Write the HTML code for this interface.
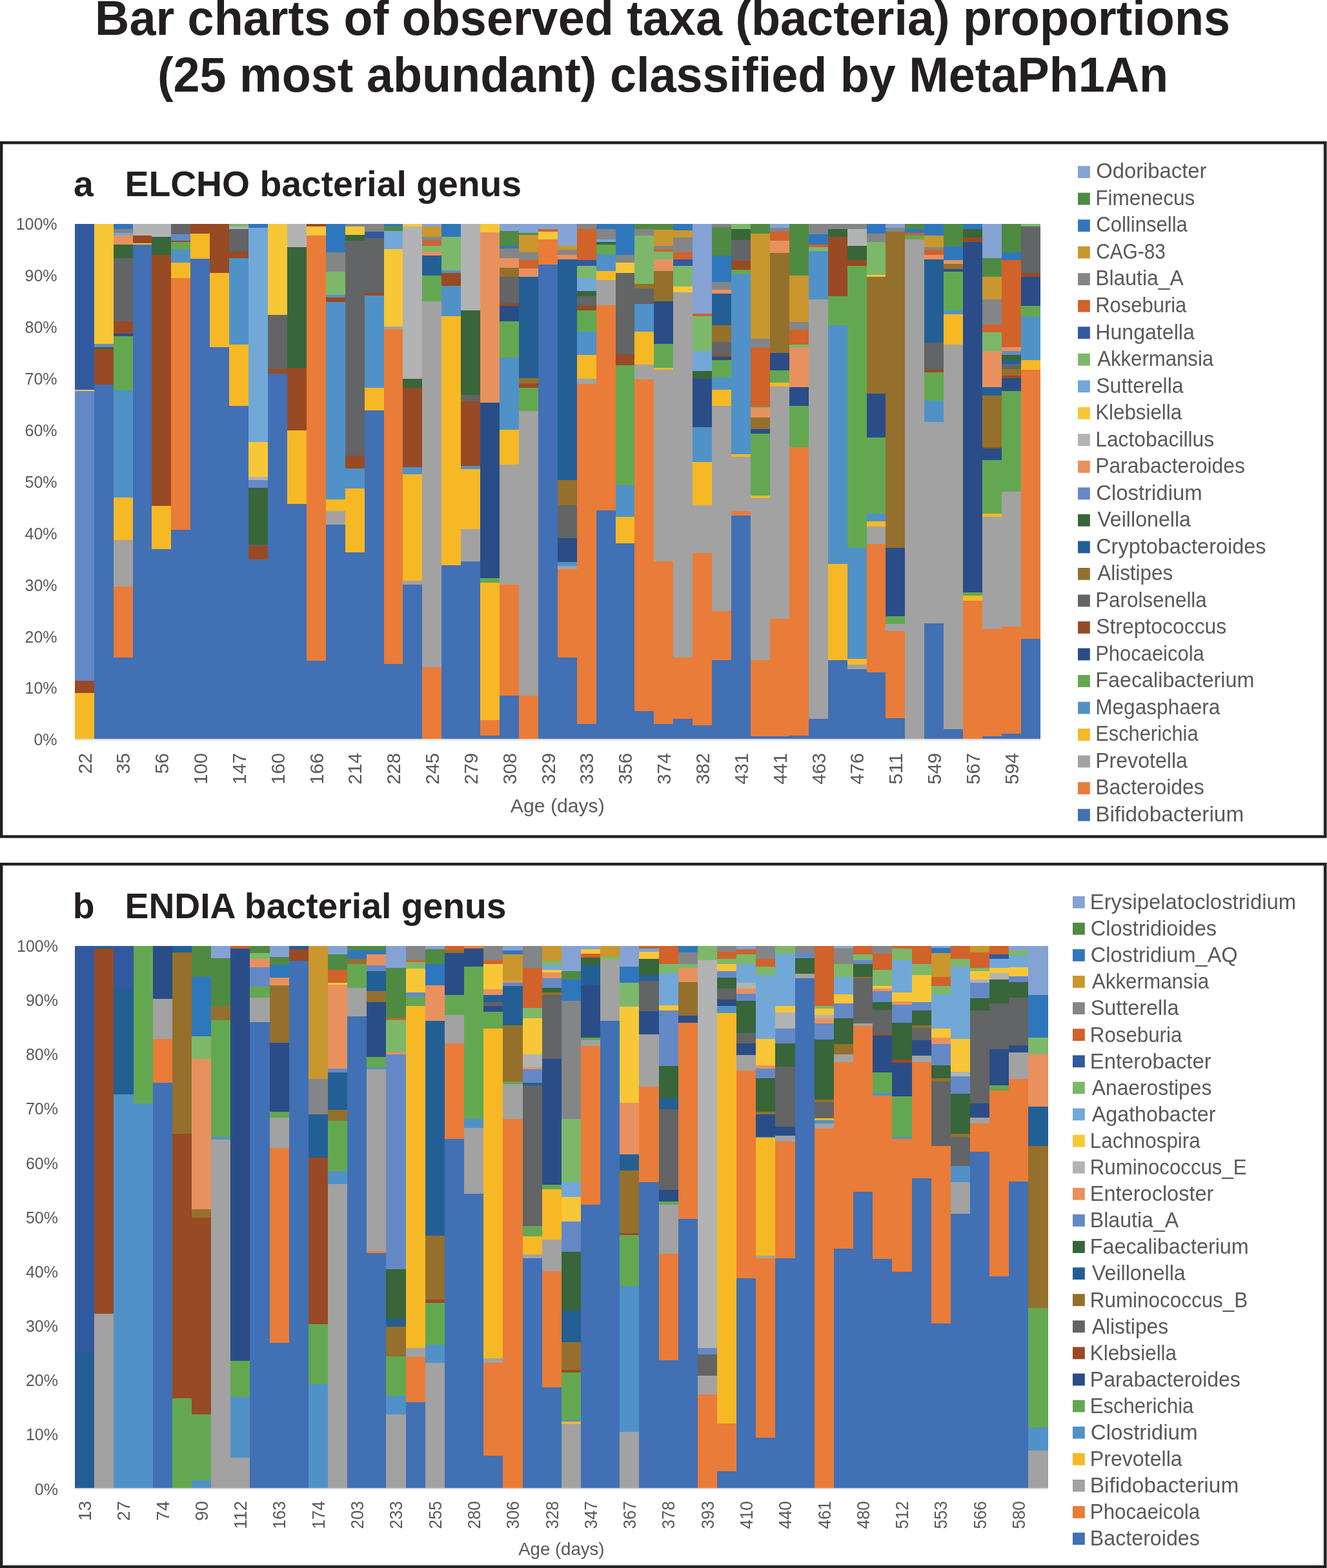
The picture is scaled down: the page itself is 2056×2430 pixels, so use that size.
<!DOCTYPE html>
<html><head><meta charset="utf-8"><title>Bar charts of observed taxa</title>
<style>html,body{margin:0;padding:0;background:#fff;width:2056px;height:2430px;overflow:hidden}</style>
</head><body>
<svg width="2056" height="2430" viewBox="0 0 2056 2430" style="display:block">
<rect width="2056" height="2430" fill="#fff"/>
<g transform="translate(1028,0) scale(0.971,1)">
<text x="-1.5" y="54.2" text-anchor="middle" font-family="Liberation Sans, Arial, sans-serif" font-weight="bold" font-size="76" fill="#231F20">Bar charts of observed taxa (bacteria) proportions</text>
<text x="-1" y="142" text-anchor="middle" font-family="Liberation Sans, Arial, sans-serif" font-weight="bold" font-size="76" fill="#231F20">(25 most abundant) classified by MetaPh1An</text>
</g>
<rect x="2.20" y="221.20" width="2051.10" height="1075.30" fill="#fff" stroke="#231F20" stroke-width="4.4"/>
<rect x="2049.30" y="223.40" width="1.6" height="1070.90" fill="#D6D6D6"/>
<text x="114" y="304.3" font-family="Liberation Sans, Arial, sans-serif" font-weight="bold" font-size="55.3" fill="#231F20">a</text>
<text x="193.5" y="304.3" font-family="Liberation Sans, Arial, sans-serif" font-weight="bold" font-size="55.3" fill="#231F20">ELCHO bacterial genus</text>
<rect x="115.80" y="1145.40" width="1496.00" height="2" fill="#D9D9D9"/>
<g shape-rendering="crispEdges">
<rect x="116" y="1074" width="30" height="71" fill="#F6B925"/>
<rect x="116" y="1055" width="30" height="19" fill="#984A24"/>
<rect x="116" y="606" width="30" height="449" fill="#6489C6"/>
<rect x="116" y="604" width="30" height="2" fill="#F8C737"/>
<rect x="116" y="347" width="30" height="257" fill="#3159A0"/>
<rect x="146" y="596" width="30" height="549" fill="#4170B4"/>
<rect x="146" y="541" width="30" height="55" fill="#984A24"/>
<rect x="146" y="538" width="30" height="3" fill="#386539"/>
<rect x="146" y="533" width="30" height="5" fill="#6489C6"/>
<rect x="146" y="347" width="30" height="186" fill="#F8C737"/>
<rect x="176" y="1019" width="30" height="126" fill="#4170B4"/>
<rect x="176" y="909" width="30" height="110" fill="#E97C38"/>
<rect x="176" y="837" width="30" height="72" fill="#A2A2A2"/>
<rect x="176" y="771" width="30" height="66" fill="#F6B925"/>
<rect x="176" y="605" width="30" height="166" fill="#5092C7"/>
<rect x="176" y="521" width="30" height="84" fill="#63A851"/>
<rect x="176" y="517" width="30" height="4" fill="#2A4D88"/>
<rect x="176" y="498" width="30" height="19" fill="#984A24"/>
<rect x="176" y="400" width="30" height="98" fill="#626465"/>
<rect x="176" y="379" width="30" height="21" fill="#386539"/>
<rect x="176" y="365" width="30" height="14" fill="#E9915E"/>
<rect x="176" y="361" width="30" height="4" fill="#72A8D8"/>
<rect x="176" y="355" width="30" height="6" fill="#848586"/>
<rect x="176" y="347" width="30" height="8" fill="#2F77BD"/>
<rect x="206" y="379" width="29" height="766" fill="#4170B4"/>
<rect x="206" y="377" width="29" height="2" fill="#F8C737"/>
<rect x="206" y="365" width="29" height="12" fill="#984A24"/>
<rect x="206" y="347" width="29" height="18" fill="#B2B3B4"/>
<rect x="235" y="851" width="30" height="294" fill="#4170B4"/>
<rect x="235" y="784" width="30" height="67" fill="#F6B925"/>
<rect x="235" y="395" width="30" height="389" fill="#984A24"/>
<rect x="235" y="367" width="30" height="28" fill="#386539"/>
<rect x="235" y="347" width="30" height="20" fill="#B2B3B4"/>
<rect x="265" y="821" width="30" height="324" fill="#4170B4"/>
<rect x="265" y="431" width="30" height="390" fill="#E97C38"/>
<rect x="265" y="407" width="30" height="24" fill="#F6B925"/>
<rect x="265" y="387" width="30" height="20" fill="#5092C7"/>
<rect x="265" y="375" width="30" height="12" fill="#63A851"/>
<rect x="265" y="373" width="30" height="2" fill="#984A24"/>
<rect x="265" y="363" width="30" height="10" fill="#6489C6"/>
<rect x="265" y="347" width="30" height="16" fill="#626465"/>
<rect x="295" y="401" width="30" height="744" fill="#4170B4"/>
<rect x="295" y="362" width="30" height="39" fill="#F6B925"/>
<rect x="295" y="347" width="30" height="15" fill="#984A24"/>
<rect x="325" y="538" width="30" height="607" fill="#4170B4"/>
<rect x="325" y="423" width="30" height="115" fill="#F6B925"/>
<rect x="325" y="347" width="30" height="76" fill="#984A24"/>
<rect x="355" y="629" width="30" height="516" fill="#4170B4"/>
<rect x="355" y="534" width="30" height="95" fill="#F6B925"/>
<rect x="355" y="400" width="30" height="134" fill="#5092C7"/>
<rect x="355" y="390" width="30" height="10" fill="#984A24"/>
<rect x="355" y="355" width="30" height="35" fill="#626465"/>
<rect x="355" y="351" width="30" height="4" fill="#B2B3B4"/>
<rect x="355" y="347" width="30" height="4" fill="#7DB86A"/>
<rect x="385" y="867" width="30" height="278" fill="#4170B4"/>
<rect x="385" y="846" width="30" height="21" fill="#984A24"/>
<rect x="385" y="844" width="30" height="2" fill="#626465"/>
<rect x="385" y="756" width="30" height="88" fill="#386539"/>
<rect x="385" y="744" width="30" height="12" fill="#6489C6"/>
<rect x="385" y="739" width="30" height="5" fill="#B2B3B4"/>
<rect x="385" y="685" width="30" height="54" fill="#F8C737"/>
<rect x="385" y="353" width="30" height="332" fill="#72A8D8"/>
<rect x="385" y="347" width="30" height="6" fill="#2F77BD"/>
<rect x="415" y="579" width="30" height="566" fill="#4170B4"/>
<rect x="415" y="572" width="30" height="7" fill="#984A24"/>
<rect x="415" y="488" width="30" height="84" fill="#626465"/>
<rect x="415" y="347" width="30" height="141" fill="#F8C737"/>
<rect x="445" y="781" width="30" height="364" fill="#4170B4"/>
<rect x="445" y="667" width="30" height="114" fill="#F6B925"/>
<rect x="445" y="570" width="30" height="97" fill="#984A24"/>
<rect x="445" y="383" width="30" height="187" fill="#386539"/>
<rect x="445" y="347" width="30" height="36" fill="#B2B3B4"/>
<rect x="475" y="1024" width="30" height="121" fill="#4170B4"/>
<rect x="475" y="365" width="30" height="659" fill="#E97C38"/>
<rect x="475" y="351" width="30" height="14" fill="#F8C737"/>
<rect x="475" y="347" width="30" height="4" fill="#984A24"/>
<rect x="505" y="813" width="30" height="332" fill="#4170B4"/>
<rect x="505" y="792" width="30" height="21" fill="#A2A2A2"/>
<rect x="505" y="774" width="30" height="18" fill="#F6B925"/>
<rect x="505" y="468" width="30" height="306" fill="#5092C7"/>
<rect x="505" y="461" width="30" height="7" fill="#984A24"/>
<rect x="505" y="457" width="30" height="4" fill="#6489C6"/>
<rect x="505" y="421" width="30" height="36" fill="#7DB86A"/>
<rect x="505" y="391" width="30" height="30" fill="#848586"/>
<rect x="505" y="347" width="30" height="44" fill="#2F77BD"/>
<rect x="535" y="856" width="30" height="289" fill="#4170B4"/>
<rect x="535" y="757" width="30" height="99" fill="#F6B925"/>
<rect x="535" y="726" width="30" height="31" fill="#5092C7"/>
<rect x="535" y="706" width="30" height="20" fill="#984A24"/>
<rect x="535" y="373" width="30" height="333" fill="#626465"/>
<rect x="535" y="364" width="30" height="9" fill="#386539"/>
<rect x="535" y="351" width="30" height="13" fill="#F8C737"/>
<rect x="535" y="347" width="30" height="4" fill="#848586"/>
<rect x="565" y="636" width="30" height="509" fill="#4170B4"/>
<rect x="565" y="601" width="30" height="35" fill="#F6B925"/>
<rect x="565" y="458" width="30" height="143" fill="#5092C7"/>
<rect x="565" y="454" width="30" height="4" fill="#984A24"/>
<rect x="565" y="369" width="30" height="85" fill="#626465"/>
<rect x="565" y="359" width="30" height="10" fill="#3159A0"/>
<rect x="565" y="347" width="30" height="12" fill="#848586"/>
<rect x="595" y="1029" width="29" height="116" fill="#4170B4"/>
<rect x="595" y="510" width="29" height="519" fill="#E97C38"/>
<rect x="595" y="506" width="29" height="4" fill="#A2A2A2"/>
<rect x="595" y="386" width="29" height="120" fill="#F8C737"/>
<rect x="595" y="358" width="29" height="28" fill="#72A8D8"/>
<rect x="595" y="351" width="29" height="7" fill="#4F8A43"/>
<rect x="595" y="347" width="29" height="4" fill="#2F77BD"/>
<rect x="624" y="906" width="30" height="239" fill="#4170B4"/>
<rect x="624" y="900" width="30" height="6" fill="#A2A2A2"/>
<rect x="624" y="735" width="30" height="165" fill="#F6B925"/>
<rect x="624" y="724" width="30" height="11" fill="#5092C7"/>
<rect x="624" y="601" width="30" height="123" fill="#984A24"/>
<rect x="624" y="587" width="30" height="14" fill="#386539"/>
<rect x="624" y="351" width="30" height="236" fill="#B2B3B4"/>
<rect x="624" y="347" width="30" height="4" fill="#F8C737"/>
<rect x="654" y="1034" width="30" height="111" fill="#E97C38"/>
<rect x="654" y="467" width="30" height="567" fill="#A2A2A2"/>
<rect x="654" y="427" width="30" height="40" fill="#63A851"/>
<rect x="654" y="396" width="30" height="31" fill="#235F95"/>
<rect x="654" y="390" width="30" height="6" fill="#E9915E"/>
<rect x="654" y="381" width="30" height="9" fill="#7DB86A"/>
<rect x="654" y="373" width="30" height="8" fill="#D0622A"/>
<rect x="654" y="367" width="30" height="6" fill="#848586"/>
<rect x="654" y="351" width="30" height="16" fill="#C9972E"/>
<rect x="654" y="347" width="30" height="4" fill="#85A2D4"/>
<rect x="684" y="876" width="30" height="269" fill="#4170B4"/>
<rect x="684" y="490" width="30" height="386" fill="#F6B925"/>
<rect x="684" y="443" width="30" height="47" fill="#5092C7"/>
<rect x="684" y="423" width="30" height="20" fill="#984A24"/>
<rect x="684" y="419" width="30" height="4" fill="#6489C6"/>
<rect x="684" y="367" width="30" height="52" fill="#7DB86A"/>
<rect x="684" y="347" width="30" height="20" fill="#2F77BD"/>
<rect x="714" y="870" width="30" height="275" fill="#4170B4"/>
<rect x="714" y="820" width="30" height="50" fill="#A2A2A2"/>
<rect x="714" y="727" width="30" height="93" fill="#F6B925"/>
<rect x="714" y="722" width="30" height="5" fill="#5092C7"/>
<rect x="714" y="622" width="30" height="100" fill="#984A24"/>
<rect x="714" y="612" width="30" height="10" fill="#626465"/>
<rect x="714" y="481" width="30" height="131" fill="#386539"/>
<rect x="714" y="347" width="30" height="134" fill="#B2B3B4"/>
<rect x="744" y="1140" width="30" height="5" fill="#4170B4"/>
<rect x="744" y="1116" width="30" height="24" fill="#E97C38"/>
<rect x="744" y="903" width="30" height="213" fill="#F6B925"/>
<rect x="744" y="896" width="30" height="7" fill="#63A851"/>
<rect x="744" y="624" width="30" height="272" fill="#2A4D88"/>
<rect x="744" y="360" width="30" height="264" fill="#E9915E"/>
<rect x="744" y="347" width="30" height="13" fill="#F8C737"/>
<rect x="774" y="1078" width="30" height="67" fill="#4170B4"/>
<rect x="774" y="906" width="30" height="172" fill="#E97C38"/>
<rect x="774" y="720" width="30" height="186" fill="#A2A2A2"/>
<rect x="774" y="666" width="30" height="54" fill="#F6B925"/>
<rect x="774" y="554" width="30" height="112" fill="#5092C7"/>
<rect x="774" y="498" width="30" height="56" fill="#63A851"/>
<rect x="774" y="474" width="30" height="24" fill="#2A4D88"/>
<rect x="774" y="470" width="30" height="4" fill="#984A24"/>
<rect x="774" y="429" width="30" height="41" fill="#626465"/>
<rect x="774" y="415" width="30" height="14" fill="#94702C"/>
<rect x="774" y="400" width="30" height="15" fill="#E9915E"/>
<rect x="774" y="385" width="30" height="15" fill="#848586"/>
<rect x="774" y="381" width="30" height="4" fill="#2F77BD"/>
<rect x="774" y="358" width="30" height="23" fill="#4F8A43"/>
<rect x="774" y="347" width="30" height="11" fill="#85A2D4"/>
<rect x="804" y="1078" width="30" height="67" fill="#E97C38"/>
<rect x="804" y="637" width="30" height="441" fill="#A2A2A2"/>
<rect x="804" y="601" width="30" height="36" fill="#63A851"/>
<rect x="804" y="594" width="30" height="7" fill="#984A24"/>
<rect x="804" y="586" width="30" height="8" fill="#94702C"/>
<rect x="804" y="429" width="30" height="157" fill="#235F95"/>
<rect x="804" y="416" width="30" height="13" fill="#E9915E"/>
<rect x="804" y="403" width="30" height="13" fill="#D0622A"/>
<rect x="804" y="391" width="30" height="12" fill="#848586"/>
<rect x="804" y="364" width="30" height="27" fill="#C9972E"/>
<rect x="804" y="361" width="30" height="3" fill="#4F8A43"/>
<rect x="804" y="347" width="30" height="14" fill="#85A2D4"/>
<rect x="834" y="410" width="30" height="735" fill="#4170B4"/>
<rect x="834" y="371" width="30" height="39" fill="#E97C38"/>
<rect x="834" y="359" width="30" height="12" fill="#F8C737"/>
<rect x="834" y="355" width="30" height="4" fill="#D0622A"/>
<rect x="834" y="347" width="30" height="8" fill="#85A2D4"/>
<rect x="864" y="1019" width="30" height="126" fill="#4170B4"/>
<rect x="864" y="882" width="30" height="137" fill="#E97C38"/>
<rect x="864" y="877" width="30" height="5" fill="#A2A2A2"/>
<rect x="864" y="871" width="30" height="6" fill="#5092C7"/>
<rect x="864" y="834" width="30" height="37" fill="#2A4D88"/>
<rect x="864" y="783" width="30" height="51" fill="#626465"/>
<rect x="864" y="744" width="30" height="39" fill="#94702C"/>
<rect x="864" y="402" width="30" height="342" fill="#235F95"/>
<rect x="864" y="395" width="30" height="7" fill="#E9915E"/>
<rect x="864" y="387" width="30" height="8" fill="#848586"/>
<rect x="864" y="381" width="30" height="6" fill="#C9972E"/>
<rect x="864" y="347" width="30" height="34" fill="#85A2D4"/>
<rect x="894" y="1122" width="30" height="23" fill="#4170B4"/>
<rect x="894" y="595" width="30" height="527" fill="#E97C38"/>
<rect x="894" y="587" width="30" height="8" fill="#A2A2A2"/>
<rect x="894" y="550" width="30" height="37" fill="#F6B925"/>
<rect x="894" y="514" width="30" height="36" fill="#5092C7"/>
<rect x="894" y="481" width="30" height="33" fill="#63A851"/>
<rect x="894" y="474" width="30" height="7" fill="#984A24"/>
<rect x="894" y="459" width="30" height="15" fill="#626465"/>
<rect x="894" y="451" width="30" height="8" fill="#386539"/>
<rect x="894" y="431" width="30" height="20" fill="#72A8D8"/>
<rect x="894" y="412" width="30" height="19" fill="#7DB86A"/>
<rect x="894" y="403" width="30" height="9" fill="#3159A0"/>
<rect x="894" y="355" width="30" height="48" fill="#D0622A"/>
<rect x="894" y="347" width="30" height="8" fill="#848586"/>
<rect x="924" y="791" width="30" height="354" fill="#4170B4"/>
<rect x="924" y="473" width="30" height="318" fill="#E97C38"/>
<rect x="924" y="434" width="30" height="39" fill="#A2A2A2"/>
<rect x="924" y="420" width="30" height="14" fill="#F6B925"/>
<rect x="924" y="394" width="30" height="26" fill="#5092C7"/>
<rect x="924" y="379" width="30" height="15" fill="#63A851"/>
<rect x="924" y="375" width="30" height="4" fill="#386539"/>
<rect x="924" y="371" width="30" height="4" fill="#72A8D8"/>
<rect x="924" y="355" width="30" height="16" fill="#848586"/>
<rect x="924" y="347" width="30" height="8" fill="#2F77BD"/>
<rect x="954" y="842" width="29" height="303" fill="#4170B4"/>
<rect x="954" y="801" width="29" height="41" fill="#F6B925"/>
<rect x="954" y="752" width="29" height="49" fill="#5092C7"/>
<rect x="954" y="566" width="29" height="186" fill="#63A851"/>
<rect x="954" y="549" width="29" height="17" fill="#984A24"/>
<rect x="954" y="423" width="29" height="126" fill="#626465"/>
<rect x="954" y="407" width="29" height="16" fill="#F8C737"/>
<rect x="954" y="395" width="29" height="12" fill="#848586"/>
<rect x="954" y="347" width="29" height="48" fill="#2F77BD"/>
<rect x="983" y="1102" width="30" height="43" fill="#4170B4"/>
<rect x="983" y="588" width="30" height="514" fill="#E97C38"/>
<rect x="983" y="565" width="30" height="23" fill="#A2A2A2"/>
<rect x="983" y="514" width="30" height="51" fill="#F6B925"/>
<rect x="983" y="471" width="30" height="43" fill="#5092C7"/>
<rect x="983" y="447" width="30" height="24" fill="#626465"/>
<rect x="983" y="440" width="30" height="7" fill="#94702C"/>
<rect x="983" y="365" width="30" height="75" fill="#7DB86A"/>
<rect x="983" y="355" width="30" height="10" fill="#848586"/>
<rect x="983" y="347" width="30" height="8" fill="#4F8A43"/>
<rect x="1013" y="1122" width="30" height="23" fill="#4170B4"/>
<rect x="1013" y="870" width="30" height="252" fill="#E97C38"/>
<rect x="1013" y="573" width="30" height="297" fill="#A2A2A2"/>
<rect x="1013" y="570" width="30" height="3" fill="#F6B925"/>
<rect x="1013" y="533" width="30" height="37" fill="#63A851"/>
<rect x="1013" y="467" width="30" height="66" fill="#2A4D88"/>
<rect x="1013" y="420" width="30" height="47" fill="#94702C"/>
<rect x="1013" y="402" width="30" height="18" fill="#E9915E"/>
<rect x="1013" y="390" width="30" height="12" fill="#7DB86A"/>
<rect x="1013" y="386" width="30" height="4" fill="#D0622A"/>
<rect x="1013" y="381" width="30" height="5" fill="#848586"/>
<rect x="1013" y="356" width="30" height="25" fill="#C9972E"/>
<rect x="1013" y="347" width="30" height="9" fill="#4F8A43"/>
<rect x="1043" y="1114" width="30" height="31" fill="#4170B4"/>
<rect x="1043" y="1019" width="30" height="95" fill="#E97C38"/>
<rect x="1043" y="453" width="30" height="566" fill="#A2A2A2"/>
<rect x="1043" y="444" width="30" height="9" fill="#F8C737"/>
<rect x="1043" y="412" width="30" height="32" fill="#7DB86A"/>
<rect x="1043" y="402" width="30" height="10" fill="#3159A0"/>
<rect x="1043" y="391" width="30" height="11" fill="#D0622A"/>
<rect x="1043" y="368" width="30" height="23" fill="#848586"/>
<rect x="1043" y="357" width="30" height="11" fill="#C9972E"/>
<rect x="1043" y="347" width="30" height="10" fill="#2F77BD"/>
<rect x="1073" y="1124" width="30" height="21" fill="#4170B4"/>
<rect x="1073" y="857" width="30" height="267" fill="#E97C38"/>
<rect x="1073" y="783" width="30" height="74" fill="#A2A2A2"/>
<rect x="1073" y="716" width="30" height="67" fill="#F6B925"/>
<rect x="1073" y="662" width="30" height="54" fill="#5092C7"/>
<rect x="1073" y="587" width="30" height="75" fill="#2A4D88"/>
<rect x="1073" y="575" width="30" height="12" fill="#386539"/>
<rect x="1073" y="544" width="30" height="31" fill="#72A8D8"/>
<rect x="1073" y="490" width="30" height="54" fill="#7DB86A"/>
<rect x="1073" y="486" width="30" height="4" fill="#D0622A"/>
<rect x="1073" y="347" width="30" height="139" fill="#85A2D4"/>
<rect x="1103" y="1023" width="30" height="122" fill="#4170B4"/>
<rect x="1103" y="947" width="30" height="76" fill="#E97C38"/>
<rect x="1103" y="629" width="30" height="318" fill="#A2A2A2"/>
<rect x="1103" y="604" width="30" height="25" fill="#F6B925"/>
<rect x="1103" y="585" width="30" height="19" fill="#5092C7"/>
<rect x="1103" y="558" width="30" height="27" fill="#63A851"/>
<rect x="1103" y="553" width="30" height="5" fill="#2A4D88"/>
<rect x="1103" y="550" width="30" height="3" fill="#984A24"/>
<rect x="1103" y="530" width="30" height="20" fill="#626465"/>
<rect x="1103" y="504" width="30" height="26" fill="#94702C"/>
<rect x="1103" y="455" width="30" height="49" fill="#235F95"/>
<rect x="1103" y="449" width="30" height="6" fill="#E9915E"/>
<rect x="1103" y="437" width="30" height="12" fill="#848586"/>
<rect x="1103" y="396" width="30" height="41" fill="#2F77BD"/>
<rect x="1103" y="352" width="30" height="44" fill="#4F8A43"/>
<rect x="1103" y="347" width="30" height="5" fill="#848586"/>
<rect x="1133" y="799" width="30" height="346" fill="#4170B4"/>
<rect x="1133" y="792" width="30" height="7" fill="#E97C38"/>
<rect x="1133" y="708" width="30" height="84" fill="#A2A2A2"/>
<rect x="1133" y="704" width="30" height="4" fill="#F6B925"/>
<rect x="1133" y="425" width="30" height="279" fill="#5092C7"/>
<rect x="1133" y="418" width="30" height="7" fill="#63A851"/>
<rect x="1133" y="404" width="30" height="14" fill="#984A24"/>
<rect x="1133" y="372" width="30" height="32" fill="#626465"/>
<rect x="1133" y="355" width="30" height="17" fill="#386539"/>
<rect x="1133" y="347" width="30" height="8" fill="#7DB86A"/>
<rect x="1163" y="1141" width="30" height="4" fill="#4170B4"/>
<rect x="1163" y="1023" width="30" height="118" fill="#E97C38"/>
<rect x="1163" y="772" width="30" height="251" fill="#A2A2A2"/>
<rect x="1163" y="768" width="30" height="4" fill="#F6B925"/>
<rect x="1163" y="672" width="30" height="96" fill="#63A851"/>
<rect x="1163" y="665" width="30" height="7" fill="#2A4D88"/>
<rect x="1163" y="647" width="30" height="18" fill="#94702C"/>
<rect x="1163" y="633" width="30" height="14" fill="#E9915E"/>
<rect x="1163" y="631" width="30" height="2" fill="#7DB86A"/>
<rect x="1163" y="539" width="30" height="92" fill="#D0622A"/>
<rect x="1163" y="525" width="30" height="14" fill="#848586"/>
<rect x="1163" y="362" width="30" height="163" fill="#C9972E"/>
<rect x="1163" y="347" width="30" height="15" fill="#4F8A43"/>
<rect x="1193" y="1141" width="30" height="4" fill="#4170B4"/>
<rect x="1193" y="959" width="30" height="182" fill="#E97C38"/>
<rect x="1193" y="599" width="30" height="360" fill="#A2A2A2"/>
<rect x="1193" y="593" width="30" height="6" fill="#F6B925"/>
<rect x="1193" y="574" width="30" height="19" fill="#63A851"/>
<rect x="1193" y="547" width="30" height="27" fill="#2A4D88"/>
<rect x="1193" y="392" width="30" height="155" fill="#94702C"/>
<rect x="1193" y="373" width="30" height="19" fill="#E9915E"/>
<rect x="1193" y="359" width="30" height="14" fill="#D0622A"/>
<rect x="1193" y="353" width="30" height="6" fill="#848586"/>
<rect x="1193" y="347" width="30" height="6" fill="#85A2D4"/>
<rect x="1223" y="1140" width="30" height="5" fill="#4170B4"/>
<rect x="1223" y="693" width="30" height="447" fill="#E97C38"/>
<rect x="1223" y="629" width="30" height="64" fill="#63A851"/>
<rect x="1223" y="600" width="30" height="29" fill="#2A4D88"/>
<rect x="1223" y="539" width="30" height="61" fill="#E9915E"/>
<rect x="1223" y="534" width="30" height="5" fill="#7DB86A"/>
<rect x="1223" y="511" width="30" height="23" fill="#D0622A"/>
<rect x="1223" y="499" width="30" height="12" fill="#848586"/>
<rect x="1223" y="427" width="30" height="72" fill="#C9972E"/>
<rect x="1223" y="347" width="30" height="80" fill="#4F8A43"/>
<rect x="1253" y="1114" width="30" height="31" fill="#4170B4"/>
<rect x="1253" y="464" width="30" height="650" fill="#A2A2A2"/>
<rect x="1253" y="389" width="30" height="75" fill="#5092C7"/>
<rect x="1253" y="383" width="30" height="6" fill="#7DB86A"/>
<rect x="1253" y="379" width="30" height="4" fill="#D0622A"/>
<rect x="1253" y="363" width="30" height="16" fill="#2F77BD"/>
<rect x="1253" y="347" width="30" height="16" fill="#848586"/>
<rect x="1283" y="1023" width="30" height="122" fill="#4170B4"/>
<rect x="1283" y="874" width="30" height="149" fill="#F6B925"/>
<rect x="1283" y="504" width="30" height="370" fill="#5092C7"/>
<rect x="1283" y="459" width="30" height="45" fill="#63A851"/>
<rect x="1283" y="367" width="30" height="92" fill="#984A24"/>
<rect x="1283" y="355" width="30" height="12" fill="#386539"/>
<rect x="1283" y="347" width="30" height="8" fill="#848586"/>
<rect x="1313" y="1037" width="30" height="108" fill="#4170B4"/>
<rect x="1313" y="1030" width="30" height="7" fill="#A2A2A2"/>
<rect x="1313" y="1021" width="30" height="9" fill="#F6B925"/>
<rect x="1313" y="849" width="30" height="172" fill="#5092C7"/>
<rect x="1313" y="412" width="30" height="437" fill="#63A851"/>
<rect x="1313" y="403" width="30" height="9" fill="#984A24"/>
<rect x="1313" y="381" width="30" height="22" fill="#386539"/>
<rect x="1313" y="355" width="30" height="26" fill="#B2B3B4"/>
<rect x="1313" y="347" width="30" height="8" fill="#848586"/>
<rect x="1343" y="1042" width="29" height="103" fill="#4170B4"/>
<rect x="1343" y="843" width="29" height="199" fill="#E97C38"/>
<rect x="1343" y="816" width="29" height="27" fill="#A2A2A2"/>
<rect x="1343" y="808" width="29" height="8" fill="#F6B925"/>
<rect x="1343" y="796" width="29" height="12" fill="#5092C7"/>
<rect x="1343" y="678" width="29" height="118" fill="#63A851"/>
<rect x="1343" y="610" width="29" height="68" fill="#2A4D88"/>
<rect x="1343" y="429" width="29" height="181" fill="#94702C"/>
<rect x="1343" y="426" width="29" height="3" fill="#F8C737"/>
<rect x="1343" y="375" width="29" height="51" fill="#7DB86A"/>
<rect x="1343" y="362" width="29" height="13" fill="#848586"/>
<rect x="1343" y="347" width="29" height="15" fill="#2F77BD"/>
<rect x="1372" y="1113" width="30" height="32" fill="#4170B4"/>
<rect x="1372" y="978" width="30" height="135" fill="#E97C38"/>
<rect x="1372" y="967" width="30" height="11" fill="#A2A2A2"/>
<rect x="1372" y="955" width="30" height="12" fill="#63A851"/>
<rect x="1372" y="849" width="30" height="106" fill="#2A4D88"/>
<rect x="1372" y="359" width="30" height="490" fill="#94702C"/>
<rect x="1372" y="353" width="30" height="6" fill="#848586"/>
<rect x="1372" y="347" width="30" height="6" fill="#85A2D4"/>
<rect x="1402" y="371" width="30" height="774" fill="#A2A2A2"/>
<rect x="1402" y="365" width="30" height="6" fill="#63A851"/>
<rect x="1402" y="361" width="30" height="4" fill="#D0622A"/>
<rect x="1402" y="355" width="30" height="6" fill="#2F77BD"/>
<rect x="1402" y="347" width="30" height="8" fill="#4F8A43"/>
<rect x="1432" y="966" width="30" height="179" fill="#4170B4"/>
<rect x="1432" y="654" width="30" height="312" fill="#A2A2A2"/>
<rect x="1432" y="621" width="30" height="33" fill="#5092C7"/>
<rect x="1432" y="577" width="30" height="44" fill="#63A851"/>
<rect x="1432" y="573" width="30" height="4" fill="#984A24"/>
<rect x="1432" y="531" width="30" height="42" fill="#626465"/>
<rect x="1432" y="402" width="30" height="129" fill="#235F95"/>
<rect x="1432" y="395" width="30" height="7" fill="#E9915E"/>
<rect x="1432" y="387" width="30" height="8" fill="#D0622A"/>
<rect x="1432" y="383" width="30" height="4" fill="#848586"/>
<rect x="1432" y="365" width="30" height="18" fill="#C9972E"/>
<rect x="1432" y="347" width="30" height="18" fill="#2F77BD"/>
<rect x="1462" y="1130" width="30" height="15" fill="#4170B4"/>
<rect x="1462" y="534" width="30" height="596" fill="#A2A2A2"/>
<rect x="1462" y="487" width="30" height="47" fill="#F6B925"/>
<rect x="1462" y="481" width="30" height="6" fill="#5092C7"/>
<rect x="1462" y="421" width="30" height="60" fill="#63A851"/>
<rect x="1462" y="417" width="30" height="4" fill="#2A4D88"/>
<rect x="1462" y="409" width="30" height="8" fill="#94702C"/>
<rect x="1462" y="403" width="30" height="6" fill="#E9915E"/>
<rect x="1462" y="382" width="30" height="21" fill="#2F77BD"/>
<rect x="1462" y="347" width="30" height="35" fill="#4F8A43"/>
<rect x="1492" y="931" width="30" height="214" fill="#E97C38"/>
<rect x="1492" y="923" width="30" height="8" fill="#F6B925"/>
<rect x="1492" y="918" width="30" height="5" fill="#63A851"/>
<rect x="1492" y="375" width="30" height="543" fill="#2A4D88"/>
<rect x="1492" y="368" width="30" height="7" fill="#984A24"/>
<rect x="1492" y="355" width="30" height="13" fill="#386539"/>
<rect x="1492" y="347" width="30" height="8" fill="#2F77BD"/>
<rect x="1522" y="1141" width="30" height="4" fill="#4170B4"/>
<rect x="1522" y="975" width="30" height="166" fill="#E97C38"/>
<rect x="1522" y="801" width="30" height="174" fill="#A2A2A2"/>
<rect x="1522" y="796" width="30" height="5" fill="#F6B925"/>
<rect x="1522" y="713" width="30" height="83" fill="#63A851"/>
<rect x="1522" y="695" width="30" height="18" fill="#2A4D88"/>
<rect x="1522" y="693" width="30" height="2" fill="#984A24"/>
<rect x="1522" y="613" width="30" height="80" fill="#94702C"/>
<rect x="1522" y="600" width="30" height="13" fill="#235F95"/>
<rect x="1522" y="544" width="30" height="56" fill="#E9915E"/>
<rect x="1522" y="515" width="30" height="29" fill="#7DB86A"/>
<rect x="1522" y="503" width="30" height="12" fill="#D0622A"/>
<rect x="1522" y="464" width="30" height="39" fill="#848586"/>
<rect x="1522" y="429" width="30" height="35" fill="#C9972E"/>
<rect x="1522" y="400" width="30" height="29" fill="#4F8A43"/>
<rect x="1522" y="347" width="30" height="53" fill="#85A2D4"/>
<rect x="1552" y="1137" width="30" height="8" fill="#4170B4"/>
<rect x="1552" y="971" width="30" height="166" fill="#E97C38"/>
<rect x="1552" y="762" width="30" height="209" fill="#A2A2A2"/>
<rect x="1552" y="606" width="30" height="156" fill="#63A851"/>
<rect x="1552" y="586" width="30" height="20" fill="#2A4D88"/>
<rect x="1552" y="582" width="30" height="4" fill="#984A24"/>
<rect x="1552" y="572" width="30" height="10" fill="#94702C"/>
<rect x="1552" y="564" width="30" height="8" fill="#626465"/>
<rect x="1552" y="558" width="30" height="6" fill="#235F95"/>
<rect x="1552" y="550" width="30" height="8" fill="#386539"/>
<rect x="1552" y="544" width="30" height="6" fill="#6489C6"/>
<rect x="1552" y="538" width="30" height="6" fill="#E9915E"/>
<rect x="1552" y="403" width="30" height="135" fill="#D0622A"/>
<rect x="1552" y="391" width="30" height="12" fill="#2F77BD"/>
<rect x="1552" y="347" width="30" height="44" fill="#4F8A43"/>
<rect x="1582" y="990" width="30" height="155" fill="#4170B4"/>
<rect x="1582" y="573" width="30" height="417" fill="#E97C38"/>
<rect x="1582" y="558" width="30" height="15" fill="#F6B925"/>
<rect x="1582" y="491" width="30" height="67" fill="#5092C7"/>
<rect x="1582" y="474" width="30" height="17" fill="#63A851"/>
<rect x="1582" y="429" width="30" height="45" fill="#2A4D88"/>
<rect x="1582" y="423" width="30" height="6" fill="#984A24"/>
<rect x="1582" y="351" width="30" height="72" fill="#626465"/>
<rect x="1582" y="347" width="30" height="4" fill="#7DB86A"/>
</g>
<text x="88.6" y="1155.40" text-anchor="end" font-family="Liberation Sans, Arial, sans-serif" font-size="25" fill="#595959">0%</text>
<text x="88.6" y="1075.49" text-anchor="end" font-family="Liberation Sans, Arial, sans-serif" font-size="25" fill="#595959">10%</text>
<text x="88.6" y="995.58" text-anchor="end" font-family="Liberation Sans, Arial, sans-serif" font-size="25" fill="#595959">20%</text>
<text x="88.6" y="915.67" text-anchor="end" font-family="Liberation Sans, Arial, sans-serif" font-size="25" fill="#595959">30%</text>
<text x="88.6" y="835.76" text-anchor="end" font-family="Liberation Sans, Arial, sans-serif" font-size="25" fill="#595959">40%</text>
<text x="88.6" y="755.85" text-anchor="end" font-family="Liberation Sans, Arial, sans-serif" font-size="25" fill="#595959">50%</text>
<text x="88.6" y="675.94" text-anchor="end" font-family="Liberation Sans, Arial, sans-serif" font-size="25" fill="#595959">60%</text>
<text x="88.6" y="596.03" text-anchor="end" font-family="Liberation Sans, Arial, sans-serif" font-size="25" fill="#595959">70%</text>
<text x="88.6" y="516.12" text-anchor="end" font-family="Liberation Sans, Arial, sans-serif" font-size="25" fill="#595959">80%</text>
<text x="88.6" y="436.21" text-anchor="end" font-family="Liberation Sans, Arial, sans-serif" font-size="25" fill="#595959">90%</text>
<text x="88.6" y="356.30" text-anchor="end" font-family="Liberation Sans, Arial, sans-serif" font-size="25" fill="#595959">100%</text>
<text transform="translate(141.56,1167) rotate(-90)" text-anchor="end" textLength="32.30" lengthAdjust="spacingAndGlyphs" font-family="Liberation Sans, Arial, sans-serif" font-size="30" fill="#595959">22</text>
<text transform="translate(201.40,1167) rotate(-90)" text-anchor="end" textLength="32.30" lengthAdjust="spacingAndGlyphs" font-family="Liberation Sans, Arial, sans-serif" font-size="30" fill="#595959">35</text>
<text transform="translate(261.24,1167) rotate(-90)" text-anchor="end" textLength="32.30" lengthAdjust="spacingAndGlyphs" font-family="Liberation Sans, Arial, sans-serif" font-size="30" fill="#595959">56</text>
<text transform="translate(321.08,1167) rotate(-90)" text-anchor="end" textLength="48.80" lengthAdjust="spacingAndGlyphs" font-family="Liberation Sans, Arial, sans-serif" font-size="30" fill="#595959">100</text>
<text transform="translate(380.92,1167) rotate(-90)" text-anchor="end" textLength="48.80" lengthAdjust="spacingAndGlyphs" font-family="Liberation Sans, Arial, sans-serif" font-size="30" fill="#595959">147</text>
<text transform="translate(440.76,1167) rotate(-90)" text-anchor="end" textLength="48.80" lengthAdjust="spacingAndGlyphs" font-family="Liberation Sans, Arial, sans-serif" font-size="30" fill="#595959">160</text>
<text transform="translate(500.60,1167) rotate(-90)" text-anchor="end" textLength="48.80" lengthAdjust="spacingAndGlyphs" font-family="Liberation Sans, Arial, sans-serif" font-size="30" fill="#595959">166</text>
<text transform="translate(560.44,1167) rotate(-90)" text-anchor="end" textLength="48.80" lengthAdjust="spacingAndGlyphs" font-family="Liberation Sans, Arial, sans-serif" font-size="30" fill="#595959">214</text>
<text transform="translate(620.28,1167) rotate(-90)" text-anchor="end" textLength="48.80" lengthAdjust="spacingAndGlyphs" font-family="Liberation Sans, Arial, sans-serif" font-size="30" fill="#595959">228</text>
<text transform="translate(680.12,1167) rotate(-90)" text-anchor="end" textLength="48.80" lengthAdjust="spacingAndGlyphs" font-family="Liberation Sans, Arial, sans-serif" font-size="30" fill="#595959">245</text>
<text transform="translate(739.96,1167) rotate(-90)" text-anchor="end" textLength="48.80" lengthAdjust="spacingAndGlyphs" font-family="Liberation Sans, Arial, sans-serif" font-size="30" fill="#595959">279</text>
<text transform="translate(799.80,1167) rotate(-90)" text-anchor="end" textLength="48.80" lengthAdjust="spacingAndGlyphs" font-family="Liberation Sans, Arial, sans-serif" font-size="30" fill="#595959">308</text>
<text transform="translate(859.64,1167) rotate(-90)" text-anchor="end" textLength="48.80" lengthAdjust="spacingAndGlyphs" font-family="Liberation Sans, Arial, sans-serif" font-size="30" fill="#595959">329</text>
<text transform="translate(919.48,1167) rotate(-90)" text-anchor="end" textLength="48.80" lengthAdjust="spacingAndGlyphs" font-family="Liberation Sans, Arial, sans-serif" font-size="30" fill="#595959">333</text>
<text transform="translate(979.32,1167) rotate(-90)" text-anchor="end" textLength="48.80" lengthAdjust="spacingAndGlyphs" font-family="Liberation Sans, Arial, sans-serif" font-size="30" fill="#595959">356</text>
<text transform="translate(1039.16,1167) rotate(-90)" text-anchor="end" textLength="48.80" lengthAdjust="spacingAndGlyphs" font-family="Liberation Sans, Arial, sans-serif" font-size="30" fill="#595959">374</text>
<text transform="translate(1099.00,1167) rotate(-90)" text-anchor="end" textLength="48.80" lengthAdjust="spacingAndGlyphs" font-family="Liberation Sans, Arial, sans-serif" font-size="30" fill="#595959">382</text>
<text transform="translate(1158.84,1167) rotate(-90)" text-anchor="end" textLength="48.80" lengthAdjust="spacingAndGlyphs" font-family="Liberation Sans, Arial, sans-serif" font-size="30" fill="#595959">431</text>
<text transform="translate(1218.68,1167) rotate(-90)" text-anchor="end" textLength="48.80" lengthAdjust="spacingAndGlyphs" font-family="Liberation Sans, Arial, sans-serif" font-size="30" fill="#595959">441</text>
<text transform="translate(1278.52,1167) rotate(-90)" text-anchor="end" textLength="48.80" lengthAdjust="spacingAndGlyphs" font-family="Liberation Sans, Arial, sans-serif" font-size="30" fill="#595959">463</text>
<text transform="translate(1338.36,1167) rotate(-90)" text-anchor="end" textLength="48.80" lengthAdjust="spacingAndGlyphs" font-family="Liberation Sans, Arial, sans-serif" font-size="30" fill="#595959">476</text>
<text transform="translate(1398.20,1167) rotate(-90)" text-anchor="end" textLength="48.80" lengthAdjust="spacingAndGlyphs" font-family="Liberation Sans, Arial, sans-serif" font-size="30" fill="#595959">511</text>
<text transform="translate(1458.04,1167) rotate(-90)" text-anchor="end" textLength="48.80" lengthAdjust="spacingAndGlyphs" font-family="Liberation Sans, Arial, sans-serif" font-size="30" fill="#595959">549</text>
<text transform="translate(1517.88,1167) rotate(-90)" text-anchor="end" textLength="48.80" lengthAdjust="spacingAndGlyphs" font-family="Liberation Sans, Arial, sans-serif" font-size="30" fill="#595959">567</text>
<text transform="translate(1577.72,1167) rotate(-90)" text-anchor="end" textLength="48.80" lengthAdjust="spacingAndGlyphs" font-family="Liberation Sans, Arial, sans-serif" font-size="30" fill="#595959">594</text>
<text x="863.80" y="1259" text-anchor="middle" font-family="Liberation Sans, Arial, sans-serif" font-size="30.2" fill="#595959">Age (days)</text>
<rect x="1670" y="257.20" width="18.8" height="18.8" fill="#85A2D4"/>
<text x="1698.20" y="276.40" textLength="171.34" lengthAdjust="spacingAndGlyphs" font-family="Liberation Sans, Arial, sans-serif" font-size="32.5" fill="#595959">Odoribacter</text>
<rect x="1670" y="298.72" width="18.8" height="18.8" fill="#4F8A43"/>
<text x="1697.20" y="317.92" textLength="154.01" lengthAdjust="spacingAndGlyphs" font-family="Liberation Sans, Arial, sans-serif" font-size="32.5" fill="#595959">Fimenecus</text>
<rect x="1670" y="340.24" width="18.8" height="18.8" fill="#2F77BD"/>
<text x="1698.20" y="359.44" textLength="141.72" lengthAdjust="spacingAndGlyphs" font-family="Liberation Sans, Arial, sans-serif" font-size="32.5" fill="#595959">Collinsella</text>
<rect x="1670" y="381.76" width="18.8" height="18.8" fill="#C9972E"/>
<text x="1698.20" y="400.96" textLength="107.67" lengthAdjust="spacingAndGlyphs" font-family="Liberation Sans, Arial, sans-serif" font-size="32.5" fill="#595959">CAG-83</text>
<rect x="1670" y="423.28" width="18.8" height="18.8" fill="#848586"/>
<text x="1697.20" y="442.48" textLength="136.62" lengthAdjust="spacingAndGlyphs" font-family="Liberation Sans, Arial, sans-serif" font-size="32.5" fill="#595959">Blautia_A</text>
<rect x="1670" y="464.80" width="18.8" height="18.8" fill="#D0622A"/>
<text x="1697.20" y="484.00" textLength="141.13" lengthAdjust="spacingAndGlyphs" font-family="Liberation Sans, Arial, sans-serif" font-size="32.5" fill="#595959">Roseburia</text>
<rect x="1670" y="506.32" width="18.8" height="18.8" fill="#3159A0"/>
<text x="1697.20" y="525.52" textLength="153.63" lengthAdjust="spacingAndGlyphs" font-family="Liberation Sans, Arial, sans-serif" font-size="32.5" fill="#595959">Hungatella</text>
<rect x="1670" y="547.84" width="18.8" height="18.8" fill="#7DB86A"/>
<text x="1700.20" y="567.04" textLength="179.98" lengthAdjust="spacingAndGlyphs" font-family="Liberation Sans, Arial, sans-serif" font-size="32.5" fill="#595959">Akkermansia</text>
<rect x="1670" y="589.36" width="18.8" height="18.8" fill="#72A8D8"/>
<text x="1698.20" y="608.56" textLength="135.42" lengthAdjust="spacingAndGlyphs" font-family="Liberation Sans, Arial, sans-serif" font-size="32.5" fill="#595959">Sutterella</text>
<rect x="1670" y="630.88" width="18.8" height="18.8" fill="#F8C737"/>
<text x="1697.20" y="650.08" textLength="134.01" lengthAdjust="spacingAndGlyphs" font-family="Liberation Sans, Arial, sans-serif" font-size="32.5" fill="#595959">Klebsiella</text>
<rect x="1670" y="672.40" width="18.8" height="18.8" fill="#B2B3B4"/>
<text x="1697.20" y="691.60" textLength="184.03" lengthAdjust="spacingAndGlyphs" font-family="Liberation Sans, Arial, sans-serif" font-size="32.5" fill="#595959">Lactobacillus</text>
<rect x="1670" y="713.92" width="18.8" height="18.8" fill="#E9915E"/>
<text x="1697.20" y="733.12" textLength="231.66" lengthAdjust="spacingAndGlyphs" font-family="Liberation Sans, Arial, sans-serif" font-size="32.5" fill="#595959">Parabacteroides</text>
<rect x="1670" y="755.44" width="18.8" height="18.8" fill="#6489C6"/>
<text x="1698.20" y="774.64" textLength="164.43" lengthAdjust="spacingAndGlyphs" font-family="Liberation Sans, Arial, sans-serif" font-size="32.5" fill="#595959">Clostridium</text>
<rect x="1670" y="796.96" width="18.8" height="18.8" fill="#386539"/>
<text x="1700.20" y="816.16" textLength="144.78" lengthAdjust="spacingAndGlyphs" font-family="Liberation Sans, Arial, sans-serif" font-size="32.5" fill="#595959">Veillonella</text>
<rect x="1670" y="838.48" width="18.8" height="18.8" fill="#235F95"/>
<text x="1698.20" y="857.68" textLength="263.35" lengthAdjust="spacingAndGlyphs" font-family="Liberation Sans, Arial, sans-serif" font-size="32.5" fill="#595959">Cryptobacteroides</text>
<rect x="1670" y="880.00" width="18.8" height="18.8" fill="#94702C"/>
<text x="1700.20" y="899.20" textLength="117.12" lengthAdjust="spacingAndGlyphs" font-family="Liberation Sans, Arial, sans-serif" font-size="32.5" fill="#595959">Alistipes</text>
<rect x="1670" y="921.52" width="18.8" height="18.8" fill="#626465"/>
<text x="1697.20" y="940.72" textLength="172.58" lengthAdjust="spacingAndGlyphs" font-family="Liberation Sans, Arial, sans-serif" font-size="32.5" fill="#595959">Parolsenella</text>
<rect x="1670" y="963.04" width="18.8" height="18.8" fill="#984A24"/>
<text x="1698.20" y="982.24" textLength="202.07" lengthAdjust="spacingAndGlyphs" font-family="Liberation Sans, Arial, sans-serif" font-size="32.5" fill="#595959">Streptococcus</text>
<rect x="1670" y="1004.56" width="18.8" height="18.8" fill="#2A4D88"/>
<text x="1697.20" y="1023.76" textLength="168.53" lengthAdjust="spacingAndGlyphs" font-family="Liberation Sans, Arial, sans-serif" font-size="32.5" fill="#595959">Phocaeicola</text>
<rect x="1670" y="1046.08" width="18.8" height="18.8" fill="#63A851"/>
<text x="1697.20" y="1065.28" textLength="246.12" lengthAdjust="spacingAndGlyphs" font-family="Liberation Sans, Arial, sans-serif" font-size="32.5" fill="#595959">Faecalibacterium</text>
<rect x="1670" y="1087.60" width="18.8" height="18.8" fill="#5092C7"/>
<text x="1697.20" y="1106.80" textLength="193.23" lengthAdjust="spacingAndGlyphs" font-family="Liberation Sans, Arial, sans-serif" font-size="32.5" fill="#595959">Megasphaera</text>
<rect x="1670" y="1129.12" width="18.8" height="18.8" fill="#F6B925"/>
<text x="1697.20" y="1148.32" textLength="159.36" lengthAdjust="spacingAndGlyphs" font-family="Liberation Sans, Arial, sans-serif" font-size="32.5" fill="#595959">Escherichia</text>
<rect x="1670" y="1170.64" width="18.8" height="18.8" fill="#A2A2A2"/>
<text x="1697.20" y="1189.84" textLength="142.69" lengthAdjust="spacingAndGlyphs" font-family="Liberation Sans, Arial, sans-serif" font-size="32.5" fill="#595959">Prevotella</text>
<rect x="1670" y="1212.16" width="18.8" height="18.8" fill="#E97C38"/>
<text x="1697.20" y="1231.36" textLength="168.62" lengthAdjust="spacingAndGlyphs" font-family="Liberation Sans, Arial, sans-serif" font-size="32.5" fill="#595959">Bacteroides</text>
<rect x="1670" y="1253.68" width="18.8" height="18.8" fill="#4170B4"/>
<text x="1697.20" y="1272.88" textLength="230.06" lengthAdjust="spacingAndGlyphs" font-family="Liberation Sans, Arial, sans-serif" font-size="32.5" fill="#595959">Bifidobacterium</text>
<rect x="2.20" y="1339.20" width="2051.10" height="1089.00" fill="#fff" stroke="#231F20" stroke-width="4.4"/>
<rect x="2049.30" y="1341.40" width="1.6" height="1084.60" fill="#D6D6D6"/>
<rect x="4.40" y="2424.00" width="2046.70" height="1.6" fill="#D6D6D6"/>
<text x="112.8" y="1423" font-family="Liberation Sans, Arial, sans-serif" font-weight="bold" font-size="55.3" fill="#231F20">b</text>
<text x="193.5" y="1423" font-family="Liberation Sans, Arial, sans-serif" font-weight="bold" font-size="55.3" fill="#231F20">ENDIA bacterial genus</text>
<rect x="116.10" y="2305.90" width="1507.50" height="2" fill="#D9D9D9"/>
<g shape-rendering="crispEdges">
<rect x="116" y="2095" width="30" height="211" fill="#235F95"/>
<rect x="116" y="1466" width="30" height="629" fill="#3159A0"/>
<rect x="146" y="2036" width="30" height="270" fill="#A2A2A2"/>
<rect x="146" y="1470" width="30" height="566" fill="#984A24"/>
<rect x="146" y="1466" width="30" height="4" fill="#235F95"/>
<rect x="176" y="1696" width="31" height="610" fill="#5092C7"/>
<rect x="176" y="1531" width="31" height="165" fill="#235F95"/>
<rect x="176" y="1466" width="31" height="65" fill="#3159A0"/>
<rect x="207" y="1710" width="30" height="596" fill="#5092C7"/>
<rect x="207" y="1466" width="30" height="244" fill="#63A851"/>
<rect x="237" y="1678" width="30" height="628" fill="#4170B4"/>
<rect x="237" y="1610" width="30" height="68" fill="#E97C38"/>
<rect x="237" y="1548" width="30" height="62" fill="#A2A2A2"/>
<rect x="237" y="1466" width="30" height="82" fill="#2A4D88"/>
<rect x="267" y="2167" width="30" height="139" fill="#63A851"/>
<rect x="267" y="1757" width="30" height="410" fill="#984A24"/>
<rect x="267" y="1476" width="30" height="281" fill="#94702C"/>
<rect x="267" y="1466" width="30" height="10" fill="#235F95"/>
<rect x="297" y="2294" width="30" height="12" fill="#5092C7"/>
<rect x="297" y="2192" width="30" height="102" fill="#63A851"/>
<rect x="297" y="1887" width="30" height="305" fill="#984A24"/>
<rect x="297" y="1874" width="30" height="13" fill="#94702C"/>
<rect x="297" y="1641" width="30" height="233" fill="#E9915E"/>
<rect x="297" y="1606" width="30" height="35" fill="#7DB86A"/>
<rect x="297" y="1514" width="30" height="92" fill="#2F77BD"/>
<rect x="297" y="1466" width="30" height="48" fill="#4F8A43"/>
<rect x="327" y="1766" width="30" height="540" fill="#A2A2A2"/>
<rect x="327" y="1762" width="30" height="4" fill="#5092C7"/>
<rect x="327" y="1581" width="30" height="181" fill="#63A851"/>
<rect x="327" y="1559" width="30" height="22" fill="#94702C"/>
<rect x="327" y="1485" width="30" height="74" fill="#4F8A43"/>
<rect x="327" y="1466" width="30" height="19" fill="#85A2D4"/>
<rect x="357" y="2259" width="30" height="47" fill="#A2A2A2"/>
<rect x="357" y="2165" width="30" height="94" fill="#5092C7"/>
<rect x="357" y="2109" width="30" height="56" fill="#63A851"/>
<rect x="357" y="1470" width="30" height="639" fill="#2A4D88"/>
<rect x="357" y="1466" width="30" height="4" fill="#D0622A"/>
<rect x="387" y="1584" width="31" height="722" fill="#4170B4"/>
<rect x="387" y="1546" width="31" height="38" fill="#A2A2A2"/>
<rect x="387" y="1529" width="31" height="17" fill="#63A851"/>
<rect x="387" y="1499" width="31" height="30" fill="#6489C6"/>
<rect x="387" y="1486" width="31" height="13" fill="#E9915E"/>
<rect x="387" y="1477" width="31" height="9" fill="#7DB86A"/>
<rect x="387" y="1466" width="31" height="11" fill="#4F8A43"/>
<rect x="418" y="2081" width="30" height="225" fill="#4170B4"/>
<rect x="418" y="1779" width="30" height="302" fill="#E97C38"/>
<rect x="418" y="1732" width="30" height="47" fill="#A2A2A2"/>
<rect x="418" y="1723" width="30" height="9" fill="#63A851"/>
<rect x="418" y="1616" width="30" height="107" fill="#2A4D88"/>
<rect x="418" y="1527" width="30" height="89" fill="#94702C"/>
<rect x="418" y="1515" width="30" height="12" fill="#E9915E"/>
<rect x="418" y="1495" width="30" height="20" fill="#2F77BD"/>
<rect x="418" y="1483" width="30" height="12" fill="#4F8A43"/>
<rect x="418" y="1466" width="30" height="17" fill="#85A2D4"/>
<rect x="448" y="1489" width="30" height="817" fill="#4170B4"/>
<rect x="448" y="1471" width="30" height="18" fill="#984A24"/>
<rect x="448" y="1466" width="30" height="5" fill="#235F95"/>
<rect x="478" y="2145" width="30" height="161" fill="#5092C7"/>
<rect x="478" y="2052" width="30" height="93" fill="#63A851"/>
<rect x="478" y="1794" width="30" height="258" fill="#984A24"/>
<rect x="478" y="1727" width="30" height="67" fill="#235F95"/>
<rect x="478" y="1672" width="30" height="55" fill="#848586"/>
<rect x="478" y="1466" width="30" height="206" fill="#C9972E"/>
<rect x="508" y="1835" width="30" height="471" fill="#A2A2A2"/>
<rect x="508" y="1815" width="30" height="20" fill="#5092C7"/>
<rect x="508" y="1737" width="30" height="78" fill="#63A851"/>
<rect x="508" y="1720" width="30" height="17" fill="#94702C"/>
<rect x="508" y="1662" width="30" height="58" fill="#235F95"/>
<rect x="508" y="1656" width="30" height="6" fill="#6489C6"/>
<rect x="508" y="1526" width="30" height="130" fill="#E9915E"/>
<rect x="508" y="1523" width="30" height="3" fill="#F8C737"/>
<rect x="508" y="1503" width="30" height="20" fill="#D0622A"/>
<rect x="508" y="1479" width="30" height="24" fill="#4F8A43"/>
<rect x="508" y="1466" width="30" height="13" fill="#85A2D4"/>
<rect x="538" y="1575" width="30" height="731" fill="#4170B4"/>
<rect x="538" y="1531" width="30" height="44" fill="#A2A2A2"/>
<rect x="538" y="1494" width="30" height="37" fill="#63A851"/>
<rect x="538" y="1486" width="30" height="8" fill="#94702C"/>
<rect x="538" y="1473" width="30" height="13" fill="#2F77BD"/>
<rect x="538" y="1466" width="30" height="7" fill="#4F8A43"/>
<rect x="568" y="1942" width="30" height="364" fill="#4170B4"/>
<rect x="568" y="1939" width="30" height="3" fill="#E97C38"/>
<rect x="568" y="1657" width="30" height="282" fill="#A2A2A2"/>
<rect x="568" y="1654" width="30" height="3" fill="#5092C7"/>
<rect x="568" y="1638" width="30" height="16" fill="#63A851"/>
<rect x="568" y="1553" width="30" height="85" fill="#2A4D88"/>
<rect x="568" y="1536" width="30" height="17" fill="#94702C"/>
<rect x="568" y="1505" width="30" height="31" fill="#235F95"/>
<rect x="568" y="1496" width="30" height="9" fill="#6489C6"/>
<rect x="568" y="1479" width="30" height="17" fill="#E9915E"/>
<rect x="568" y="1473" width="30" height="6" fill="#2F77BD"/>
<rect x="568" y="1466" width="30" height="7" fill="#4F8A43"/>
<rect x="598" y="2192" width="31" height="114" fill="#A2A2A2"/>
<rect x="598" y="2163" width="31" height="29" fill="#5092C7"/>
<rect x="598" y="2102" width="31" height="61" fill="#63A851"/>
<rect x="598" y="2056" width="31" height="46" fill="#94702C"/>
<rect x="598" y="2044" width="31" height="12" fill="#235F95"/>
<rect x="598" y="1967" width="31" height="77" fill="#386539"/>
<rect x="598" y="1634" width="31" height="333" fill="#6489C6"/>
<rect x="598" y="1631" width="31" height="3" fill="#E9915E"/>
<rect x="598" y="1581" width="31" height="50" fill="#7DB86A"/>
<rect x="598" y="1578" width="31" height="3" fill="#D0622A"/>
<rect x="598" y="1500" width="31" height="78" fill="#4F8A43"/>
<rect x="598" y="1466" width="31" height="34" fill="#85A2D4"/>
<rect x="629" y="2173" width="30" height="133" fill="#4170B4"/>
<rect x="629" y="2103" width="30" height="70" fill="#E97C38"/>
<rect x="629" y="2089" width="30" height="14" fill="#A2A2A2"/>
<rect x="629" y="1559" width="30" height="530" fill="#F6B925"/>
<rect x="629" y="1545" width="30" height="14" fill="#63A851"/>
<rect x="629" y="1538" width="30" height="7" fill="#6489C6"/>
<rect x="629" y="1501" width="30" height="37" fill="#F8C737"/>
<rect x="629" y="1491" width="30" height="10" fill="#7DB86A"/>
<rect x="629" y="1488" width="30" height="3" fill="#D0622A"/>
<rect x="629" y="1466" width="30" height="22" fill="#848586"/>
<rect x="659" y="2112" width="30" height="194" fill="#A2A2A2"/>
<rect x="659" y="2084" width="30" height="28" fill="#5092C7"/>
<rect x="659" y="2019" width="30" height="65" fill="#63A851"/>
<rect x="659" y="2014" width="30" height="5" fill="#984A24"/>
<rect x="659" y="1915" width="30" height="99" fill="#94702C"/>
<rect x="659" y="1582" width="30" height="333" fill="#235F95"/>
<rect x="659" y="1527" width="30" height="55" fill="#E9915E"/>
<rect x="659" y="1494" width="30" height="33" fill="#2F77BD"/>
<rect x="659" y="1471" width="30" height="23" fill="#4F8A43"/>
<rect x="659" y="1466" width="30" height="5" fill="#85A2D4"/>
<rect x="689" y="1765" width="30" height="541" fill="#4170B4"/>
<rect x="689" y="1617" width="30" height="148" fill="#E97C38"/>
<rect x="689" y="1573" width="30" height="44" fill="#A2A2A2"/>
<rect x="689" y="1542" width="30" height="31" fill="#63A851"/>
<rect x="689" y="1477" width="30" height="65" fill="#2A4D88"/>
<rect x="689" y="1473" width="30" height="4" fill="#94702C"/>
<rect x="689" y="1466" width="30" height="7" fill="#D0622A"/>
<rect x="719" y="1850" width="30" height="456" fill="#4170B4"/>
<rect x="719" y="1748" width="30" height="102" fill="#A2A2A2"/>
<rect x="719" y="1734" width="30" height="14" fill="#5092C7"/>
<rect x="719" y="1498" width="30" height="236" fill="#63A851"/>
<rect x="719" y="1470" width="30" height="28" fill="#2A4D88"/>
<rect x="719" y="1466" width="30" height="4" fill="#E97C38"/>
<rect x="749" y="2256" width="30" height="50" fill="#4170B4"/>
<rect x="749" y="2112" width="30" height="144" fill="#E97C38"/>
<rect x="749" y="2105" width="30" height="7" fill="#A2A2A2"/>
<rect x="749" y="1594" width="30" height="511" fill="#F6B925"/>
<rect x="749" y="1568" width="30" height="26" fill="#63A851"/>
<rect x="749" y="1559" width="30" height="9" fill="#2A4D88"/>
<rect x="749" y="1553" width="30" height="6" fill="#626465"/>
<rect x="749" y="1542" width="30" height="11" fill="#235F95"/>
<rect x="749" y="1533" width="30" height="9" fill="#E9915E"/>
<rect x="749" y="1494" width="30" height="39" fill="#F8C737"/>
<rect x="749" y="1488" width="30" height="6" fill="#D0622A"/>
<rect x="749" y="1466" width="30" height="22" fill="#848586"/>
<rect x="779" y="1734" width="31" height="572" fill="#E97C38"/>
<rect x="779" y="1680" width="31" height="54" fill="#A2A2A2"/>
<rect x="779" y="1676" width="31" height="4" fill="#63A851"/>
<rect x="779" y="1589" width="31" height="87" fill="#94702C"/>
<rect x="779" y="1528" width="31" height="61" fill="#235F95"/>
<rect x="779" y="1523" width="31" height="5" fill="#6489C6"/>
<rect x="779" y="1520" width="31" height="3" fill="#E9915E"/>
<rect x="779" y="1479" width="31" height="41" fill="#C9972E"/>
<rect x="779" y="1473" width="31" height="6" fill="#2F77BD"/>
<rect x="779" y="1466" width="31" height="7" fill="#85A2D4"/>
<rect x="810" y="1950" width="30" height="356" fill="#4170B4"/>
<rect x="810" y="1944" width="30" height="6" fill="#A2A2A2"/>
<rect x="810" y="1916" width="30" height="28" fill="#F6B925"/>
<rect x="810" y="1900" width="30" height="16" fill="#63A851"/>
<rect x="810" y="1682" width="30" height="218" fill="#626465"/>
<rect x="810" y="1678" width="30" height="4" fill="#235F95"/>
<rect x="810" y="1657" width="30" height="21" fill="#6489C6"/>
<rect x="810" y="1654" width="30" height="3" fill="#E9915E"/>
<rect x="810" y="1634" width="30" height="20" fill="#B2B3B4"/>
<rect x="810" y="1578" width="30" height="56" fill="#F8C737"/>
<rect x="810" y="1562" width="30" height="16" fill="#7DB86A"/>
<rect x="810" y="1500" width="30" height="62" fill="#D0622A"/>
<rect x="810" y="1466" width="30" height="34" fill="#848586"/>
<rect x="840" y="2150" width="30" height="156" fill="#4170B4"/>
<rect x="840" y="1970" width="30" height="180" fill="#E97C38"/>
<rect x="840" y="1921" width="30" height="49" fill="#A2A2A2"/>
<rect x="840" y="1843" width="30" height="78" fill="#F6B925"/>
<rect x="840" y="1836" width="30" height="7" fill="#63A851"/>
<rect x="840" y="1641" width="30" height="195" fill="#2A4D88"/>
<rect x="840" y="1542" width="30" height="99" fill="#626465"/>
<rect x="840" y="1538" width="30" height="4" fill="#94702C"/>
<rect x="840" y="1531" width="30" height="7" fill="#386539"/>
<rect x="840" y="1516" width="30" height="15" fill="#6489C6"/>
<rect x="840" y="1507" width="30" height="9" fill="#E9915E"/>
<rect x="840" y="1503" width="30" height="4" fill="#F8C737"/>
<rect x="840" y="1496" width="30" height="7" fill="#72A8D8"/>
<rect x="840" y="1489" width="30" height="7" fill="#7DB86A"/>
<rect x="840" y="1466" width="30" height="23" fill="#C9972E"/>
<rect x="870" y="2207" width="30" height="99" fill="#A2A2A2"/>
<rect x="870" y="2203" width="30" height="4" fill="#F6B925"/>
<rect x="870" y="2200" width="30" height="3" fill="#5092C7"/>
<rect x="870" y="2127" width="30" height="73" fill="#63A851"/>
<rect x="870" y="2123" width="30" height="4" fill="#984A24"/>
<rect x="870" y="2080" width="30" height="43" fill="#94702C"/>
<rect x="870" y="2031" width="30" height="49" fill="#235F95"/>
<rect x="870" y="1940" width="30" height="91" fill="#386539"/>
<rect x="870" y="1893" width="30" height="47" fill="#6489C6"/>
<rect x="870" y="1855" width="30" height="38" fill="#F8C737"/>
<rect x="870" y="1832" width="30" height="23" fill="#72A8D8"/>
<rect x="870" y="1734" width="30" height="98" fill="#7DB86A"/>
<rect x="870" y="1551" width="30" height="183" fill="#848586"/>
<rect x="870" y="1518" width="30" height="33" fill="#2F77BD"/>
<rect x="870" y="1505" width="30" height="13" fill="#4F8A43"/>
<rect x="870" y="1466" width="30" height="39" fill="#85A2D4"/>
<rect x="900" y="1867" width="30" height="439" fill="#4170B4"/>
<rect x="900" y="1621" width="30" height="246" fill="#E97C38"/>
<rect x="900" y="1612" width="30" height="9" fill="#A2A2A2"/>
<rect x="900" y="1608" width="30" height="4" fill="#63A851"/>
<rect x="900" y="1527" width="30" height="81" fill="#2A4D88"/>
<rect x="900" y="1496" width="30" height="31" fill="#235F95"/>
<rect x="900" y="1484" width="30" height="12" fill="#386539"/>
<rect x="900" y="1478" width="30" height="6" fill="#D0622A"/>
<rect x="900" y="1471" width="30" height="7" fill="#F8C737"/>
<rect x="900" y="1466" width="30" height="5" fill="#85A2D4"/>
<rect x="930" y="1582" width="30" height="724" fill="#4170B4"/>
<rect x="930" y="1488" width="30" height="94" fill="#A2A2A2"/>
<rect x="930" y="1483" width="30" height="5" fill="#7DB86A"/>
<rect x="930" y="1466" width="30" height="17" fill="#C9972E"/>
<rect x="960" y="2219" width="30" height="87" fill="#A2A2A2"/>
<rect x="960" y="1993" width="30" height="226" fill="#5092C7"/>
<rect x="960" y="1914" width="30" height="79" fill="#63A851"/>
<rect x="960" y="1911" width="30" height="3" fill="#984A24"/>
<rect x="960" y="1814" width="30" height="97" fill="#94702C"/>
<rect x="960" y="1789" width="30" height="25" fill="#235F95"/>
<rect x="960" y="1709" width="30" height="80" fill="#E9915E"/>
<rect x="960" y="1560" width="30" height="149" fill="#F8C737"/>
<rect x="960" y="1523" width="30" height="37" fill="#7DB86A"/>
<rect x="960" y="1498" width="30" height="25" fill="#2F77BD"/>
<rect x="960" y="1466" width="30" height="32" fill="#85A2D4"/>
<rect x="990" y="1832" width="31" height="474" fill="#4170B4"/>
<rect x="990" y="1684" width="31" height="148" fill="#E97C38"/>
<rect x="990" y="1603" width="31" height="81" fill="#A2A2A2"/>
<rect x="990" y="1567" width="31" height="36" fill="#2A4D88"/>
<rect x="990" y="1520" width="31" height="47" fill="#626465"/>
<rect x="990" y="1511" width="31" height="9" fill="#235F95"/>
<rect x="990" y="1486" width="31" height="25" fill="#386539"/>
<rect x="990" y="1475" width="31" height="11" fill="#F8C737"/>
<rect x="990" y="1470" width="31" height="5" fill="#72A8D8"/>
<rect x="990" y="1466" width="31" height="4" fill="#D0622A"/>
<rect x="1021" y="2108" width="30" height="198" fill="#4170B4"/>
<rect x="1021" y="1943" width="30" height="165" fill="#E97C38"/>
<rect x="1021" y="1867" width="30" height="76" fill="#A2A2A2"/>
<rect x="1021" y="1862" width="30" height="5" fill="#63A851"/>
<rect x="1021" y="1844" width="30" height="18" fill="#2A4D88"/>
<rect x="1021" y="1719" width="30" height="125" fill="#626465"/>
<rect x="1021" y="1702" width="30" height="17" fill="#235F95"/>
<rect x="1021" y="1652" width="30" height="50" fill="#386539"/>
<rect x="1021" y="1566" width="30" height="86" fill="#6489C6"/>
<rect x="1021" y="1558" width="30" height="8" fill="#F8C737"/>
<rect x="1021" y="1508" width="30" height="50" fill="#72A8D8"/>
<rect x="1021" y="1494" width="30" height="14" fill="#7DB86A"/>
<rect x="1021" y="1466" width="30" height="28" fill="#D0622A"/>
<rect x="1051" y="1889" width="30" height="417" fill="#4170B4"/>
<rect x="1051" y="1585" width="30" height="304" fill="#E97C38"/>
<rect x="1051" y="1574" width="30" height="11" fill="#2A4D88"/>
<rect x="1051" y="1522" width="30" height="52" fill="#94702C"/>
<rect x="1051" y="1500" width="30" height="22" fill="#E9915E"/>
<rect x="1051" y="1494" width="30" height="6" fill="#7DB86A"/>
<rect x="1051" y="1476" width="30" height="18" fill="#848586"/>
<rect x="1051" y="1466" width="30" height="10" fill="#2F77BD"/>
<rect x="1081" y="2161" width="30" height="145" fill="#E97C38"/>
<rect x="1081" y="2132" width="30" height="29" fill="#A2A2A2"/>
<rect x="1081" y="2099" width="30" height="33" fill="#626465"/>
<rect x="1081" y="2089" width="30" height="10" fill="#6489C6"/>
<rect x="1081" y="1488" width="30" height="601" fill="#B2B3B4"/>
<rect x="1081" y="1466" width="30" height="22" fill="#7DB86A"/>
<rect x="1111" y="2280" width="30" height="26" fill="#4170B4"/>
<rect x="1111" y="2206" width="30" height="74" fill="#E97C38"/>
<rect x="1111" y="1570" width="30" height="636" fill="#F6B925"/>
<rect x="1111" y="1559" width="30" height="11" fill="#5092C7"/>
<rect x="1111" y="1549" width="30" height="10" fill="#2A4D88"/>
<rect x="1111" y="1532" width="30" height="17" fill="#626465"/>
<rect x="1111" y="1515" width="30" height="17" fill="#386539"/>
<rect x="1111" y="1505" width="30" height="10" fill="#6489C6"/>
<rect x="1111" y="1494" width="30" height="11" fill="#F8C737"/>
<rect x="1111" y="1486" width="30" height="8" fill="#7DB86A"/>
<rect x="1111" y="1475" width="30" height="11" fill="#D0622A"/>
<rect x="1111" y="1466" width="30" height="9" fill="#848586"/>
<rect x="1141" y="1981" width="30" height="325" fill="#4170B4"/>
<rect x="1141" y="1659" width="30" height="322" fill="#E97C38"/>
<rect x="1141" y="1635" width="30" height="24" fill="#A2A2A2"/>
<rect x="1141" y="1617" width="30" height="18" fill="#2A4D88"/>
<rect x="1141" y="1601" width="30" height="16" fill="#626465"/>
<rect x="1141" y="1551" width="30" height="50" fill="#386539"/>
<rect x="1141" y="1540" width="30" height="11" fill="#6489C6"/>
<rect x="1141" y="1532" width="30" height="8" fill="#E9915E"/>
<rect x="1141" y="1523" width="30" height="9" fill="#B2B3B4"/>
<rect x="1141" y="1494" width="30" height="29" fill="#72A8D8"/>
<rect x="1141" y="1479" width="30" height="15" fill="#7DB86A"/>
<rect x="1141" y="1471" width="30" height="8" fill="#D0622A"/>
<rect x="1141" y="1466" width="30" height="5" fill="#85A2D4"/>
<rect x="1171" y="2228" width="30" height="78" fill="#4170B4"/>
<rect x="1171" y="1950" width="30" height="278" fill="#E97C38"/>
<rect x="1171" y="1946" width="30" height="4" fill="#A2A2A2"/>
<rect x="1171" y="1763" width="30" height="183" fill="#F6B925"/>
<rect x="1171" y="1762" width="30" height="1" fill="#5092C7"/>
<rect x="1171" y="1727" width="30" height="35" fill="#2A4D88"/>
<rect x="1171" y="1723" width="30" height="4" fill="#94702C"/>
<rect x="1171" y="1671" width="30" height="52" fill="#386539"/>
<rect x="1171" y="1656" width="30" height="15" fill="#6489C6"/>
<rect x="1171" y="1651" width="30" height="5" fill="#E9915E"/>
<rect x="1171" y="1610" width="30" height="41" fill="#F8C737"/>
<rect x="1171" y="1511" width="30" height="99" fill="#72A8D8"/>
<rect x="1171" y="1498" width="30" height="13" fill="#7DB86A"/>
<rect x="1171" y="1486" width="30" height="12" fill="#D0622A"/>
<rect x="1171" y="1466" width="30" height="20" fill="#848586"/>
<rect x="1201" y="1950" width="31" height="356" fill="#4170B4"/>
<rect x="1201" y="1769" width="31" height="181" fill="#E97C38"/>
<rect x="1201" y="1760" width="31" height="9" fill="#A2A2A2"/>
<rect x="1201" y="1746" width="31" height="14" fill="#2A4D88"/>
<rect x="1201" y="1653" width="31" height="93" fill="#626465"/>
<rect x="1201" y="1617" width="31" height="36" fill="#386539"/>
<rect x="1201" y="1594" width="31" height="23" fill="#6489C6"/>
<rect x="1201" y="1569" width="31" height="25" fill="#B2B3B4"/>
<rect x="1201" y="1559" width="31" height="10" fill="#F8C737"/>
<rect x="1201" y="1478" width="31" height="81" fill="#72A8D8"/>
<rect x="1201" y="1466" width="31" height="12" fill="#7DB86A"/>
<rect x="1232" y="1516" width="30" height="790" fill="#4170B4"/>
<rect x="1232" y="1509" width="30" height="7" fill="#A2A2A2"/>
<rect x="1232" y="1485" width="30" height="24" fill="#386539"/>
<rect x="1232" y="1477" width="30" height="8" fill="#6489C6"/>
<rect x="1232" y="1466" width="30" height="11" fill="#848586"/>
<rect x="1262" y="1749" width="30" height="557" fill="#E97C38"/>
<rect x="1262" y="1741" width="30" height="8" fill="#A2A2A2"/>
<rect x="1262" y="1736" width="30" height="5" fill="#5092C7"/>
<rect x="1262" y="1733" width="30" height="3" fill="#F6B925"/>
<rect x="1262" y="1708" width="30" height="25" fill="#626465"/>
<rect x="1262" y="1704" width="30" height="4" fill="#94702C"/>
<rect x="1262" y="1611" width="30" height="93" fill="#386539"/>
<rect x="1262" y="1586" width="30" height="25" fill="#6489C6"/>
<rect x="1262" y="1578" width="30" height="8" fill="#E9915E"/>
<rect x="1262" y="1573" width="30" height="5" fill="#B2B3B4"/>
<rect x="1262" y="1563" width="30" height="10" fill="#F8C737"/>
<rect x="1262" y="1559" width="30" height="4" fill="#7DB86A"/>
<rect x="1262" y="1466" width="30" height="93" fill="#D0622A"/>
<rect x="1292" y="1935" width="30" height="371" fill="#4170B4"/>
<rect x="1292" y="1646" width="30" height="289" fill="#E97C38"/>
<rect x="1292" y="1634" width="30" height="12" fill="#A2A2A2"/>
<rect x="1292" y="1618" width="30" height="16" fill="#94702C"/>
<rect x="1292" y="1578" width="30" height="40" fill="#386539"/>
<rect x="1292" y="1555" width="30" height="23" fill="#6489C6"/>
<rect x="1292" y="1541" width="30" height="14" fill="#F8C737"/>
<rect x="1292" y="1514" width="30" height="27" fill="#72A8D8"/>
<rect x="1292" y="1494" width="30" height="20" fill="#7DB86A"/>
<rect x="1292" y="1470" width="30" height="24" fill="#848586"/>
<rect x="1292" y="1466" width="30" height="4" fill="#85A2D4"/>
<rect x="1322" y="1847" width="30" height="459" fill="#4170B4"/>
<rect x="1322" y="1590" width="30" height="257" fill="#E97C38"/>
<rect x="1322" y="1586" width="30" height="4" fill="#A2A2A2"/>
<rect x="1322" y="1516" width="30" height="70" fill="#626465"/>
<rect x="1322" y="1514" width="30" height="2" fill="#94702C"/>
<rect x="1322" y="1494" width="30" height="20" fill="#386539"/>
<rect x="1322" y="1488" width="30" height="6" fill="#6489C6"/>
<rect x="1322" y="1479" width="30" height="9" fill="#7DB86A"/>
<rect x="1322" y="1466" width="30" height="13" fill="#D0622A"/>
<rect x="1352" y="1951" width="30" height="355" fill="#4170B4"/>
<rect x="1352" y="1698" width="30" height="253" fill="#E97C38"/>
<rect x="1352" y="1694" width="30" height="4" fill="#5092C7"/>
<rect x="1352" y="1662" width="30" height="32" fill="#63A851"/>
<rect x="1352" y="1605" width="30" height="57" fill="#2A4D88"/>
<rect x="1352" y="1603" width="30" height="2" fill="#984A24"/>
<rect x="1352" y="1565" width="30" height="38" fill="#626465"/>
<rect x="1352" y="1553" width="30" height="12" fill="#386539"/>
<rect x="1352" y="1536" width="30" height="17" fill="#6489C6"/>
<rect x="1352" y="1532" width="30" height="4" fill="#E9915E"/>
<rect x="1352" y="1528" width="30" height="4" fill="#F8C737"/>
<rect x="1352" y="1503" width="30" height="25" fill="#7DB86A"/>
<rect x="1352" y="1478" width="30" height="25" fill="#D0622A"/>
<rect x="1352" y="1466" width="30" height="12" fill="#848586"/>
<rect x="1382" y="1971" width="31" height="335" fill="#4170B4"/>
<rect x="1382" y="1765" width="31" height="206" fill="#E97C38"/>
<rect x="1382" y="1762" width="31" height="3" fill="#5092C7"/>
<rect x="1382" y="1699" width="31" height="63" fill="#63A851"/>
<rect x="1382" y="1647" width="31" height="52" fill="#2A4D88"/>
<rect x="1382" y="1642" width="31" height="5" fill="#984A24"/>
<rect x="1382" y="1585" width="31" height="57" fill="#386539"/>
<rect x="1382" y="1557" width="31" height="28" fill="#6489C6"/>
<rect x="1382" y="1552" width="31" height="5" fill="#E9915E"/>
<rect x="1382" y="1538" width="31" height="14" fill="#F8C737"/>
<rect x="1382" y="1488" width="31" height="50" fill="#72A8D8"/>
<rect x="1382" y="1470" width="31" height="18" fill="#7DB86A"/>
<rect x="1382" y="1466" width="31" height="4" fill="#D0622A"/>
<rect x="1413" y="1826" width="30" height="480" fill="#4170B4"/>
<rect x="1413" y="1646" width="30" height="180" fill="#E97C38"/>
<rect x="1413" y="1636" width="30" height="10" fill="#A2A2A2"/>
<rect x="1413" y="1612" width="30" height="24" fill="#2A4D88"/>
<rect x="1413" y="1593" width="30" height="19" fill="#626465"/>
<rect x="1413" y="1589" width="30" height="4" fill="#94702C"/>
<rect x="1413" y="1566" width="30" height="23" fill="#386539"/>
<rect x="1413" y="1553" width="30" height="13" fill="#6489C6"/>
<rect x="1413" y="1511" width="30" height="42" fill="#F8C737"/>
<rect x="1413" y="1494" width="30" height="17" fill="#7DB86A"/>
<rect x="1413" y="1466" width="30" height="28" fill="#D0622A"/>
<rect x="1443" y="2051" width="30" height="255" fill="#4170B4"/>
<rect x="1443" y="1776" width="30" height="275" fill="#E97C38"/>
<rect x="1443" y="1676" width="30" height="100" fill="#626465"/>
<rect x="1443" y="1671" width="30" height="5" fill="#94702C"/>
<rect x="1443" y="1651" width="30" height="20" fill="#386539"/>
<rect x="1443" y="1618" width="30" height="33" fill="#6489C6"/>
<rect x="1443" y="1608" width="30" height="10" fill="#E9915E"/>
<rect x="1443" y="1594" width="30" height="14" fill="#F8C737"/>
<rect x="1443" y="1541" width="30" height="53" fill="#72A8D8"/>
<rect x="1443" y="1528" width="30" height="13" fill="#7DB86A"/>
<rect x="1443" y="1514" width="30" height="14" fill="#D0622A"/>
<rect x="1443" y="1477" width="30" height="37" fill="#C9972E"/>
<rect x="1443" y="1469" width="30" height="8" fill="#2F77BD"/>
<rect x="1443" y="1466" width="30" height="3" fill="#85A2D4"/>
<rect x="1473" y="1881" width="30" height="425" fill="#4170B4"/>
<rect x="1473" y="1832" width="30" height="49" fill="#A2A2A2"/>
<rect x="1473" y="1807" width="30" height="25" fill="#5092C7"/>
<rect x="1473" y="1762" width="30" height="45" fill="#626465"/>
<rect x="1473" y="1757" width="30" height="5" fill="#94702C"/>
<rect x="1473" y="1695" width="30" height="62" fill="#386539"/>
<rect x="1473" y="1668" width="30" height="27" fill="#6489C6"/>
<rect x="1473" y="1661" width="30" height="7" fill="#B2B3B4"/>
<rect x="1473" y="1610" width="30" height="51" fill="#F8C737"/>
<rect x="1473" y="1498" width="30" height="112" fill="#72A8D8"/>
<rect x="1473" y="1486" width="30" height="12" fill="#7DB86A"/>
<rect x="1473" y="1466" width="30" height="20" fill="#D0622A"/>
<rect x="1503" y="1785" width="30" height="521" fill="#4170B4"/>
<rect x="1503" y="1741" width="30" height="44" fill="#E97C38"/>
<rect x="1503" y="1732" width="30" height="9" fill="#A2A2A2"/>
<rect x="1503" y="1710" width="30" height="22" fill="#2A4D88"/>
<rect x="1503" y="1566" width="30" height="144" fill="#626465"/>
<rect x="1503" y="1547" width="30" height="19" fill="#386539"/>
<rect x="1503" y="1523" width="30" height="24" fill="#6489C6"/>
<rect x="1503" y="1518" width="30" height="5" fill="#B2B3B4"/>
<rect x="1503" y="1505" width="30" height="13" fill="#F8C737"/>
<rect x="1503" y="1500" width="30" height="5" fill="#7DB86A"/>
<rect x="1503" y="1476" width="30" height="24" fill="#D0622A"/>
<rect x="1503" y="1466" width="30" height="10" fill="#C9972E"/>
<rect x="1533" y="1978" width="30" height="328" fill="#4170B4"/>
<rect x="1533" y="1690" width="30" height="288" fill="#E97C38"/>
<rect x="1533" y="1682" width="30" height="8" fill="#63A851"/>
<rect x="1533" y="1626" width="30" height="56" fill="#2A4D88"/>
<rect x="1533" y="1555" width="30" height="71" fill="#626465"/>
<rect x="1533" y="1518" width="30" height="37" fill="#386539"/>
<rect x="1533" y="1508" width="30" height="10" fill="#B2B3B4"/>
<rect x="1533" y="1500" width="30" height="8" fill="#F8C737"/>
<rect x="1533" y="1486" width="30" height="14" fill="#72A8D8"/>
<rect x="1533" y="1479" width="30" height="7" fill="#3159A0"/>
<rect x="1533" y="1466" width="30" height="13" fill="#D0622A"/>
<rect x="1563" y="1831" width="30" height="475" fill="#4170B4"/>
<rect x="1563" y="1672" width="30" height="159" fill="#E97C38"/>
<rect x="1563" y="1631" width="30" height="41" fill="#A2A2A2"/>
<rect x="1563" y="1620" width="30" height="11" fill="#2A4D88"/>
<rect x="1563" y="1546" width="30" height="74" fill="#626465"/>
<rect x="1563" y="1522" width="30" height="24" fill="#386539"/>
<rect x="1563" y="1513" width="30" height="9" fill="#6489C6"/>
<rect x="1563" y="1499" width="30" height="14" fill="#F8C737"/>
<rect x="1563" y="1481" width="30" height="18" fill="#72A8D8"/>
<rect x="1563" y="1473" width="30" height="8" fill="#7DB86A"/>
<rect x="1563" y="1466" width="30" height="7" fill="#85A2D4"/>
<rect x="1593" y="2248" width="31" height="58" fill="#A2A2A2"/>
<rect x="1593" y="2212" width="31" height="36" fill="#5092C7"/>
<rect x="1593" y="2027" width="31" height="185" fill="#63A851"/>
<rect x="1593" y="1776" width="31" height="251" fill="#94702C"/>
<rect x="1593" y="1715" width="31" height="61" fill="#235F95"/>
<rect x="1593" y="1634" width="31" height="81" fill="#E9915E"/>
<rect x="1593" y="1608" width="31" height="26" fill="#7DB86A"/>
<rect x="1593" y="1542" width="31" height="66" fill="#2F77BD"/>
<rect x="1593" y="1466" width="31" height="76" fill="#85A2D4"/>
</g>
<text x="90" y="2316.50" text-anchor="end" font-family="Liberation Sans, Arial, sans-serif" font-size="25" fill="#595959">0%</text>
<text x="90" y="2232.35" text-anchor="end" font-family="Liberation Sans, Arial, sans-serif" font-size="25" fill="#595959">10%</text>
<text x="90" y="2148.20" text-anchor="end" font-family="Liberation Sans, Arial, sans-serif" font-size="25" fill="#595959">20%</text>
<text x="90" y="2064.05" text-anchor="end" font-family="Liberation Sans, Arial, sans-serif" font-size="25" fill="#595959">30%</text>
<text x="90" y="1979.90" text-anchor="end" font-family="Liberation Sans, Arial, sans-serif" font-size="25" fill="#595959">40%</text>
<text x="90" y="1895.75" text-anchor="end" font-family="Liberation Sans, Arial, sans-serif" font-size="25" fill="#595959">50%</text>
<text x="90" y="1811.60" text-anchor="end" font-family="Liberation Sans, Arial, sans-serif" font-size="25" fill="#595959">60%</text>
<text x="90" y="1727.45" text-anchor="end" font-family="Liberation Sans, Arial, sans-serif" font-size="25" fill="#595959">70%</text>
<text x="90" y="1643.30" text-anchor="end" font-family="Liberation Sans, Arial, sans-serif" font-size="25" fill="#595959">80%</text>
<text x="90" y="1559.15" text-anchor="end" font-family="Liberation Sans, Arial, sans-serif" font-size="25" fill="#595959">90%</text>
<text x="90" y="1475.00" text-anchor="end" font-family="Liberation Sans, Arial, sans-serif" font-size="25" fill="#595959">100%</text>
<text transform="translate(140.89,2326.2) rotate(-90)" text-anchor="end" textLength="30.80" lengthAdjust="spacingAndGlyphs" font-family="Liberation Sans, Arial, sans-serif" font-size="27" fill="#595959">13</text>
<text transform="translate(201.19,2326.2) rotate(-90)" text-anchor="end" textLength="30.80" lengthAdjust="spacingAndGlyphs" font-family="Liberation Sans, Arial, sans-serif" font-size="27" fill="#595959">27</text>
<text transform="translate(261.50,2326.2) rotate(-90)" text-anchor="end" textLength="30.80" lengthAdjust="spacingAndGlyphs" font-family="Liberation Sans, Arial, sans-serif" font-size="27" fill="#595959">74</text>
<text transform="translate(321.79,2326.2) rotate(-90)" text-anchor="end" textLength="30.80" lengthAdjust="spacingAndGlyphs" font-family="Liberation Sans, Arial, sans-serif" font-size="27" fill="#595959">90</text>
<text transform="translate(382.10,2326.2) rotate(-90)" text-anchor="end" textLength="43.30" lengthAdjust="spacingAndGlyphs" font-family="Liberation Sans, Arial, sans-serif" font-size="27" fill="#595959">112</text>
<text transform="translate(442.39,2326.2) rotate(-90)" text-anchor="end" textLength="43.30" lengthAdjust="spacingAndGlyphs" font-family="Liberation Sans, Arial, sans-serif" font-size="27" fill="#595959">163</text>
<text transform="translate(502.70,2326.2) rotate(-90)" text-anchor="end" textLength="43.30" lengthAdjust="spacingAndGlyphs" font-family="Liberation Sans, Arial, sans-serif" font-size="27" fill="#595959">174</text>
<text transform="translate(563.00,2326.2) rotate(-90)" text-anchor="end" textLength="43.30" lengthAdjust="spacingAndGlyphs" font-family="Liberation Sans, Arial, sans-serif" font-size="27" fill="#595959">203</text>
<text transform="translate(623.29,2326.2) rotate(-90)" text-anchor="end" textLength="43.30" lengthAdjust="spacingAndGlyphs" font-family="Liberation Sans, Arial, sans-serif" font-size="27" fill="#595959">233</text>
<text transform="translate(683.60,2326.2) rotate(-90)" text-anchor="end" textLength="43.30" lengthAdjust="spacingAndGlyphs" font-family="Liberation Sans, Arial, sans-serif" font-size="27" fill="#595959">255</text>
<text transform="translate(743.89,2326.2) rotate(-90)" text-anchor="end" textLength="43.30" lengthAdjust="spacingAndGlyphs" font-family="Liberation Sans, Arial, sans-serif" font-size="27" fill="#595959">280</text>
<text transform="translate(804.20,2326.2) rotate(-90)" text-anchor="end" textLength="43.30" lengthAdjust="spacingAndGlyphs" font-family="Liberation Sans, Arial, sans-serif" font-size="27" fill="#595959">306</text>
<text transform="translate(864.50,2326.2) rotate(-90)" text-anchor="end" textLength="43.30" lengthAdjust="spacingAndGlyphs" font-family="Liberation Sans, Arial, sans-serif" font-size="27" fill="#595959">328</text>
<text transform="translate(924.79,2326.2) rotate(-90)" text-anchor="end" textLength="43.30" lengthAdjust="spacingAndGlyphs" font-family="Liberation Sans, Arial, sans-serif" font-size="27" fill="#595959">347</text>
<text transform="translate(985.10,2326.2) rotate(-90)" text-anchor="end" textLength="43.30" lengthAdjust="spacingAndGlyphs" font-family="Liberation Sans, Arial, sans-serif" font-size="27" fill="#595959">367</text>
<text transform="translate(1045.39,2326.2) rotate(-90)" text-anchor="end" textLength="43.30" lengthAdjust="spacingAndGlyphs" font-family="Liberation Sans, Arial, sans-serif" font-size="27" fill="#595959">378</text>
<text transform="translate(1105.69,2326.2) rotate(-90)" text-anchor="end" textLength="43.30" lengthAdjust="spacingAndGlyphs" font-family="Liberation Sans, Arial, sans-serif" font-size="27" fill="#595959">393</text>
<text transform="translate(1165.99,2326.2) rotate(-90)" text-anchor="end" textLength="43.30" lengthAdjust="spacingAndGlyphs" font-family="Liberation Sans, Arial, sans-serif" font-size="27" fill="#595959">410</text>
<text transform="translate(1226.29,2326.2) rotate(-90)" text-anchor="end" textLength="43.30" lengthAdjust="spacingAndGlyphs" font-family="Liberation Sans, Arial, sans-serif" font-size="27" fill="#595959">440</text>
<text transform="translate(1286.59,2326.2) rotate(-90)" text-anchor="end" textLength="43.30" lengthAdjust="spacingAndGlyphs" font-family="Liberation Sans, Arial, sans-serif" font-size="27" fill="#595959">461</text>
<text transform="translate(1346.89,2326.2) rotate(-90)" text-anchor="end" textLength="43.30" lengthAdjust="spacingAndGlyphs" font-family="Liberation Sans, Arial, sans-serif" font-size="27" fill="#595959">480</text>
<text transform="translate(1407.19,2326.2) rotate(-90)" text-anchor="end" textLength="43.30" lengthAdjust="spacingAndGlyphs" font-family="Liberation Sans, Arial, sans-serif" font-size="27" fill="#595959">512</text>
<text transform="translate(1467.49,2326.2) rotate(-90)" text-anchor="end" textLength="43.30" lengthAdjust="spacingAndGlyphs" font-family="Liberation Sans, Arial, sans-serif" font-size="27" fill="#595959">553</text>
<text transform="translate(1527.79,2326.2) rotate(-90)" text-anchor="end" textLength="43.30" lengthAdjust="spacingAndGlyphs" font-family="Liberation Sans, Arial, sans-serif" font-size="27" fill="#595959">566</text>
<text transform="translate(1588.09,2326.2) rotate(-90)" text-anchor="end" textLength="43.30" lengthAdjust="spacingAndGlyphs" font-family="Liberation Sans, Arial, sans-serif" font-size="27" fill="#595959">580</text>
<text x="869.85" y="2410" text-anchor="middle" font-family="Liberation Sans, Arial, sans-serif" font-size="27.6" fill="#595959">Age (days)</text>
<rect x="1662" y="1388.80" width="18.8" height="18.8" fill="#85A2D4"/>
<text x="1688.80" y="1409.00" textLength="319.24" lengthAdjust="spacingAndGlyphs" font-family="Liberation Sans, Arial, sans-serif" font-size="32.5" fill="#595959">Erysipelatoclostridium</text>
<rect x="1662" y="1429.90" width="18.8" height="18.8" fill="#4F8A43"/>
<text x="1689.80" y="1450.10" textLength="195.27" lengthAdjust="spacingAndGlyphs" font-family="Liberation Sans, Arial, sans-serif" font-size="32.5" fill="#595959">Clostridioides</text>
<rect x="1662" y="1471.00" width="18.8" height="18.8" fill="#2F77BD"/>
<text x="1689.80" y="1491.20" textLength="227.86" lengthAdjust="spacingAndGlyphs" font-family="Liberation Sans, Arial, sans-serif" font-size="32.5" fill="#595959">Clostridium_AQ</text>
<rect x="1662" y="1512.10" width="18.8" height="18.8" fill="#C9972E"/>
<text x="1691.80" y="1532.30" textLength="181.38" lengthAdjust="spacingAndGlyphs" font-family="Liberation Sans, Arial, sans-serif" font-size="32.5" fill="#595959">Akkermansia</text>
<rect x="1662" y="1553.20" width="18.8" height="18.8" fill="#848586"/>
<text x="1689.80" y="1573.40" textLength="136.62" lengthAdjust="spacingAndGlyphs" font-family="Liberation Sans, Arial, sans-serif" font-size="32.5" fill="#595959">Sutterella</text>
<rect x="1662" y="1594.30" width="18.8" height="18.8" fill="#D0622A"/>
<text x="1688.80" y="1614.50" textLength="142.53" lengthAdjust="spacingAndGlyphs" font-family="Liberation Sans, Arial, sans-serif" font-size="32.5" fill="#595959">Roseburia</text>
<rect x="1662" y="1635.40" width="18.8" height="18.8" fill="#3159A0"/>
<text x="1688.80" y="1655.60" textLength="187.84" lengthAdjust="spacingAndGlyphs" font-family="Liberation Sans, Arial, sans-serif" font-size="32.5" fill="#595959">Enterobacter</text>
<rect x="1662" y="1676.50" width="18.8" height="18.8" fill="#7DB86A"/>
<text x="1691.80" y="1696.70" textLength="185.49" lengthAdjust="spacingAndGlyphs" font-family="Liberation Sans, Arial, sans-serif" font-size="32.5" fill="#595959">Anaerostipes</text>
<rect x="1662" y="1717.60" width="18.8" height="18.8" fill="#72A8D8"/>
<text x="1691.80" y="1737.80" textLength="191.74" lengthAdjust="spacingAndGlyphs" font-family="Liberation Sans, Arial, sans-serif" font-size="32.5" fill="#595959">Agathobacter</text>
<rect x="1662" y="1758.70" width="18.8" height="18.8" fill="#F8C737"/>
<text x="1688.80" y="1778.90" textLength="170.93" lengthAdjust="spacingAndGlyphs" font-family="Liberation Sans, Arial, sans-serif" font-size="32.5" fill="#595959">Lachnospira</text>
<rect x="1662" y="1799.80" width="18.8" height="18.8" fill="#B2B3B4"/>
<text x="1688.80" y="1820.00" textLength="242.83" lengthAdjust="spacingAndGlyphs" font-family="Liberation Sans, Arial, sans-serif" font-size="32.5" fill="#595959">Ruminococcus_E</text>
<rect x="1662" y="1840.90" width="18.8" height="18.8" fill="#E9915E"/>
<text x="1688.80" y="1861.10" textLength="191.64" lengthAdjust="spacingAndGlyphs" font-family="Liberation Sans, Arial, sans-serif" font-size="32.5" fill="#595959">Enterocloster</text>
<rect x="1662" y="1882.00" width="18.8" height="18.8" fill="#6489C6"/>
<text x="1688.80" y="1902.20" textLength="137.42" lengthAdjust="spacingAndGlyphs" font-family="Liberation Sans, Arial, sans-serif" font-size="32.5" fill="#595959">Blautia_A</text>
<rect x="1662" y="1923.10" width="18.8" height="18.8" fill="#386539"/>
<text x="1688.80" y="1943.30" textLength="245.92" lengthAdjust="spacingAndGlyphs" font-family="Liberation Sans, Arial, sans-serif" font-size="32.5" fill="#595959">Faecalibacterium</text>
<rect x="1662" y="1964.20" width="18.8" height="18.8" fill="#235F95"/>
<text x="1691.80" y="1984.40" textLength="144.98" lengthAdjust="spacingAndGlyphs" font-family="Liberation Sans, Arial, sans-serif" font-size="32.5" fill="#595959">Veillonella</text>
<rect x="1662" y="2005.30" width="18.8" height="18.8" fill="#94702C"/>
<text x="1688.80" y="2025.50" textLength="244.43" lengthAdjust="spacingAndGlyphs" font-family="Liberation Sans, Arial, sans-serif" font-size="32.5" fill="#595959">Ruminococcus_B</text>
<rect x="1662" y="2046.40" width="18.8" height="18.8" fill="#626465"/>
<text x="1691.80" y="2066.60" textLength="118.32" lengthAdjust="spacingAndGlyphs" font-family="Liberation Sans, Arial, sans-serif" font-size="32.5" fill="#595959">Alistipes</text>
<rect x="1662" y="2087.50" width="18.8" height="18.8" fill="#984A24"/>
<text x="1688.80" y="2107.70" textLength="134.21" lengthAdjust="spacingAndGlyphs" font-family="Liberation Sans, Arial, sans-serif" font-size="32.5" fill="#595959">Klebsiella</text>
<rect x="1662" y="2128.60" width="18.8" height="18.8" fill="#2A4D88"/>
<text x="1688.80" y="2148.80" textLength="233.06" lengthAdjust="spacingAndGlyphs" font-family="Liberation Sans, Arial, sans-serif" font-size="32.5" fill="#595959">Parabacteroides</text>
<rect x="1662" y="2169.70" width="18.8" height="18.8" fill="#63A851"/>
<text x="1688.80" y="2189.90" textLength="160.56" lengthAdjust="spacingAndGlyphs" font-family="Liberation Sans, Arial, sans-serif" font-size="32.5" fill="#595959">Escherichia</text>
<rect x="1662" y="2210.80" width="18.8" height="18.8" fill="#5092C7"/>
<text x="1689.80" y="2231.00" textLength="165.83" lengthAdjust="spacingAndGlyphs" font-family="Liberation Sans, Arial, sans-serif" font-size="32.5" fill="#595959">Clostridium</text>
<rect x="1662" y="2251.90" width="18.8" height="18.8" fill="#F6B925"/>
<text x="1688.80" y="2272.10" textLength="142.89" lengthAdjust="spacingAndGlyphs" font-family="Liberation Sans, Arial, sans-serif" font-size="32.5" fill="#595959">Prevotella</text>
<rect x="1662" y="2293.00" width="18.8" height="18.8" fill="#A2A2A2"/>
<text x="1688.80" y="2313.20" textLength="230.46" lengthAdjust="spacingAndGlyphs" font-family="Liberation Sans, Arial, sans-serif" font-size="32.5" fill="#595959">Bifidobacterium</text>
<rect x="1662" y="2334.10" width="18.8" height="18.8" fill="#E97C38"/>
<text x="1688.80" y="2354.30" textLength="170.33" lengthAdjust="spacingAndGlyphs" font-family="Liberation Sans, Arial, sans-serif" font-size="32.5" fill="#595959">Phocaeicola</text>
<rect x="1662" y="2375.20" width="18.8" height="18.8" fill="#4170B4"/>
<text x="1688.80" y="2395.40" textLength="170.02" lengthAdjust="spacingAndGlyphs" font-family="Liberation Sans, Arial, sans-serif" font-size="32.5" fill="#595959">Bacteroides</text>
</svg>
</body></html>
